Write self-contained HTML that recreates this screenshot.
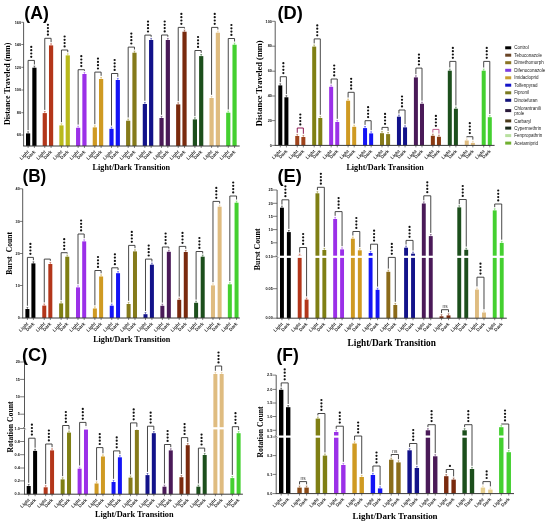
<!DOCTYPE html><html><head><meta charset="utf-8"><style>html,body{margin:0;padding:0;background:#fff;}svg{display:block;will-change:transform;}</style></head><body>
<svg width="550" height="524" viewBox="0 0 550 524">
<rect width="550" height="524" fill="#fff"/>
<rect x="26" y="133.4" width="4.2" height="12.6" fill="#000000"/>
<rect x="32.3" y="67.7" width="4.2" height="78.3" fill="#000000"/>
<path d="M28.1 133.4V131.8M27.2 131.8H29" stroke="#000000" stroke-width="0.5" fill="none"/>
<path d="M34.4 67.7V66.1M33.5 66.1H35.3" stroke="#000000" stroke-width="0.5" fill="none"/>
<rect x="42.68" y="113.1" width="4.2" height="32.9" fill="#b3361a"/>
<rect x="48.98" y="45.4" width="4.2" height="100.6" fill="#b3361a"/>
<path d="M44.78 113.1V111.5M43.88 111.5H45.68" stroke="#b3361a" stroke-width="0.5" fill="none"/>
<path d="M51.08 45.4V43.8M50.18 43.8H51.98" stroke="#b3361a" stroke-width="0.5" fill="none"/>
<rect x="59.36" y="125.4" width="4.2" height="20.6" fill="#b9b91c"/>
<rect x="65.66" y="55.4" width="4.2" height="90.6" fill="#b9b91c"/>
<path d="M61.46 125.4V123.8M60.56 123.8H62.36" stroke="#b9b91c" stroke-width="0.5" fill="none"/>
<path d="M67.76 55.4V53.8M66.86 53.8H68.66" stroke="#b9b91c" stroke-width="0.5" fill="none"/>
<rect x="76.04" y="127.8" width="4.2" height="18.2" fill="#9b30e8"/>
<rect x="82.34" y="74" width="4.2" height="72" fill="#9b30e8"/>
<path d="M78.14 127.8V126.2M77.24 126.2H79.04" stroke="#9b30e8" stroke-width="0.5" fill="none"/>
<path d="M84.44 74V72.4M83.54 72.4H85.34" stroke="#9b30e8" stroke-width="0.5" fill="none"/>
<rect x="92.72" y="127.4" width="4.2" height="18.6" fill="#cf9a22"/>
<rect x="99.02" y="79" width="4.2" height="67" fill="#cf9a22"/>
<path d="M94.82 127.4V125.8M93.92 125.8H95.72" stroke="#cf9a22" stroke-width="0.5" fill="none"/>
<path d="M101.12 79V77.4M100.22 77.4H102.02" stroke="#cf9a22" stroke-width="0.5" fill="none"/>
<rect x="109.4" y="128.8" width="4.2" height="17.2" fill="#1414f5"/>
<rect x="115.7" y="80" width="4.2" height="66" fill="#1414f5"/>
<path d="M111.5 128.8V127.2M110.6 127.2H112.4" stroke="#1414f5" stroke-width="0.5" fill="none"/>
<path d="M117.8 80V78.4M116.9 78.4H118.7" stroke="#1414f5" stroke-width="0.5" fill="none"/>
<rect x="126.08" y="120.7" width="4.2" height="25.3" fill="#857a1a"/>
<rect x="132.38" y="52.7" width="4.2" height="93.3" fill="#857a1a"/>
<path d="M128.18 120.7V119.1M127.28 119.1H129.08" stroke="#857a1a" stroke-width="0.5" fill="none"/>
<path d="M134.48 52.7V51.1M133.58 51.1H135.38" stroke="#857a1a" stroke-width="0.5" fill="none"/>
<rect x="142.76" y="104" width="4.2" height="42" fill="#12128a"/>
<rect x="149.06" y="40" width="4.2" height="106" fill="#12128a"/>
<path d="M144.86 104V102.4M143.96 102.4H145.76" stroke="#12128a" stroke-width="0.5" fill="none"/>
<path d="M151.16 40V38.4M150.26 38.4H152.06" stroke="#12128a" stroke-width="0.5" fill="none"/>
<rect x="159.44" y="118" width="4.2" height="28" fill="#4a1a58"/>
<rect x="165.74" y="40" width="4.2" height="106" fill="#4a1a58"/>
<path d="M161.54 118V116.4M160.64 116.4H162.44" stroke="#4a1a58" stroke-width="0.5" fill="none"/>
<path d="M167.84 40V38.4M166.94 38.4H168.74" stroke="#4a1a58" stroke-width="0.5" fill="none"/>
<rect x="176.12" y="104.4" width="4.2" height="41.6" fill="#7a2a0e"/>
<rect x="182.42" y="31.7" width="4.2" height="114.3" fill="#7a2a0e"/>
<path d="M178.22 104.4V102.8M177.32 102.8H179.12" stroke="#7a2a0e" stroke-width="0.5" fill="none"/>
<path d="M184.52 31.7V30.1M183.62 30.1H185.42" stroke="#7a2a0e" stroke-width="0.5" fill="none"/>
<rect x="192.8" y="119.4" width="4.2" height="26.6" fill="#1c4f1c"/>
<rect x="199.1" y="56.1" width="4.2" height="89.9" fill="#1c4f1c"/>
<path d="M194.9 119.4V117.8M194 117.8H195.8" stroke="#1c4f1c" stroke-width="0.5" fill="none"/>
<path d="M201.2 56.1V54.5M200.3 54.5H202.1" stroke="#1c4f1c" stroke-width="0.5" fill="none"/>
<rect x="209.48" y="98" width="4.2" height="48" fill="#dfbc80"/>
<rect x="215.78" y="32.7" width="4.2" height="113.3" fill="#dfbc80"/>
<path d="M211.58 98V96.4M210.68 96.4H212.48" stroke="#dfbc80" stroke-width="0.5" fill="none"/>
<path d="M217.88 32.7V31.1M216.98 31.1H218.78" stroke="#dfbc80" stroke-width="0.5" fill="none"/>
<rect x="226.16" y="112.7" width="4.2" height="33.3" fill="#44d030"/>
<rect x="232.46" y="44.7" width="4.2" height="101.3" fill="#44d030"/>
<path d="M228.26 112.7V111.1M227.36 111.1H229.16" stroke="#44d030" stroke-width="0.5" fill="none"/>
<path d="M234.56 44.7V43.1M233.66 43.1H235.46" stroke="#44d030" stroke-width="0.5" fill="none"/>
<path d="M28.1 130.2V60.4H34.4V64.5" stroke="#333" stroke-width="0.9" fill="none"/>
<circle cx="31.25" cy="56.8" r="1.12" fill="#111"/>
<circle cx="31.25" cy="53.5" r="1.12" fill="#111"/>
<circle cx="31.25" cy="50.2" r="1.12" fill="#111"/>
<circle cx="31.25" cy="46.9" r="1.12" fill="#111"/>
<path d="M44.78 109.9V38.3H51.08V42.2" stroke="#333" stroke-width="0.9" fill="none"/>
<circle cx="47.93" cy="34.7" r="1.12" fill="#111"/>
<circle cx="47.93" cy="31.4" r="1.12" fill="#111"/>
<circle cx="47.93" cy="28.1" r="1.12" fill="#111"/>
<circle cx="47.93" cy="24.8" r="1.12" fill="#111"/>
<path d="M61.46 122.2V50H67.76V52.2" stroke="#333" stroke-width="0.9" fill="none"/>
<circle cx="64.61" cy="46.4" r="1.12" fill="#111"/>
<circle cx="64.61" cy="43.1" r="1.12" fill="#111"/>
<circle cx="64.61" cy="39.8" r="1.12" fill="#111"/>
<circle cx="64.61" cy="36.5" r="1.12" fill="#111"/>
<path d="M78.14 124.6V69.7H84.44V70.8" stroke="#333" stroke-width="0.9" fill="none"/>
<circle cx="81.29" cy="66.1" r="1.12" fill="#111"/>
<circle cx="81.29" cy="62.8" r="1.12" fill="#111"/>
<circle cx="81.29" cy="59.5" r="1.12" fill="#111"/>
<circle cx="81.29" cy="56.2" r="1.12" fill="#111"/>
<path d="M94.82 124.2V72.1H101.12V75.8" stroke="#333" stroke-width="0.9" fill="none"/>
<circle cx="97.97" cy="68.5" r="1.12" fill="#111"/>
<circle cx="97.97" cy="65.2" r="1.12" fill="#111"/>
<circle cx="97.97" cy="61.9" r="1.12" fill="#111"/>
<circle cx="97.97" cy="58.6" r="1.12" fill="#111"/>
<path d="M111.5 125.6V73.5H117.8V76.8" stroke="#333" stroke-width="0.9" fill="none"/>
<circle cx="114.65" cy="69.9" r="1.12" fill="#111"/>
<circle cx="114.65" cy="66.6" r="1.12" fill="#111"/>
<circle cx="114.65" cy="63.3" r="1.12" fill="#111"/>
<circle cx="114.65" cy="60" r="1.12" fill="#111"/>
<path d="M128.18 117.5V47.1H134.48V49.5" stroke="#333" stroke-width="0.9" fill="none"/>
<circle cx="131.33" cy="43.5" r="1.12" fill="#111"/>
<circle cx="131.33" cy="40.2" r="1.12" fill="#111"/>
<circle cx="131.33" cy="36.9" r="1.12" fill="#111"/>
<circle cx="131.33" cy="33.6" r="1.12" fill="#111"/>
<path d="M144.86 100.8V35.1H151.16V36.8" stroke="#333" stroke-width="0.9" fill="none"/>
<circle cx="148.01" cy="31.5" r="1.12" fill="#111"/>
<circle cx="148.01" cy="28.2" r="1.12" fill="#111"/>
<circle cx="148.01" cy="24.9" r="1.12" fill="#111"/>
<circle cx="148.01" cy="21.6" r="1.12" fill="#111"/>
<path d="M161.54 114.8V35H167.84V36.8" stroke="#333" stroke-width="0.9" fill="none"/>
<circle cx="164.69" cy="31.4" r="1.12" fill="#111"/>
<circle cx="164.69" cy="28.1" r="1.12" fill="#111"/>
<circle cx="164.69" cy="24.8" r="1.12" fill="#111"/>
<circle cx="164.69" cy="21.5" r="1.12" fill="#111"/>
<path d="M178.22 101.2V27.4H184.52V28.5" stroke="#333" stroke-width="0.9" fill="none"/>
<circle cx="181.37" cy="23.8" r="1.12" fill="#111"/>
<circle cx="181.37" cy="20.5" r="1.12" fill="#111"/>
<circle cx="181.37" cy="17.2" r="1.12" fill="#111"/>
<circle cx="181.37" cy="13.9" r="1.12" fill="#111"/>
<path d="M194.9 116.2V50.5H201.2V52.9" stroke="#333" stroke-width="0.9" fill="none"/>
<circle cx="198.05" cy="46.9" r="1.12" fill="#111"/>
<circle cx="198.05" cy="43.6" r="1.12" fill="#111"/>
<circle cx="198.05" cy="40.3" r="1.12" fill="#111"/>
<circle cx="198.05" cy="37" r="1.12" fill="#111"/>
<path d="M211.58 94.8V27.4H217.88V29.5" stroke="#333" stroke-width="0.9" fill="none"/>
<circle cx="214.73" cy="23.8" r="1.12" fill="#111"/>
<circle cx="214.73" cy="20.5" r="1.12" fill="#111"/>
<circle cx="214.73" cy="17.2" r="1.12" fill="#111"/>
<circle cx="214.73" cy="13.9" r="1.12" fill="#111"/>
<path d="M228.26 109.5V38.5H234.56V41.5" stroke="#333" stroke-width="0.9" fill="none"/>
<circle cx="231.41" cy="34.9" r="1.12" fill="#111"/>
<circle cx="231.41" cy="31.6" r="1.12" fill="#111"/>
<circle cx="231.41" cy="28.3" r="1.12" fill="#111"/>
<circle cx="231.41" cy="25" r="1.12" fill="#111"/>
<path d="M23.6 22.3V146" stroke="#444" stroke-width="0.9" fill="none"/>
<path d="M23.15 146H239.7" stroke="#3a3a3a" stroke-width="1" fill="none"/>
<path d="M21.3 22.3H23.6" stroke="#444" stroke-width="0.7"/>
<text x="21.1" y="23.55" font-size="3.8" font-weight="bold" text-anchor="end" fill="#111" font-family='"Liberation Sans", sans-serif'>160</text>
<path d="M21.3 44.5H23.6" stroke="#444" stroke-width="0.7"/>
<text x="21.1" y="45.75" font-size="3.8" font-weight="bold" text-anchor="end" fill="#111" font-family='"Liberation Sans", sans-serif'>140</text>
<path d="M21.3 67.3H23.6" stroke="#444" stroke-width="0.7"/>
<text x="21.1" y="68.55" font-size="3.8" font-weight="bold" text-anchor="end" fill="#111" font-family='"Liberation Sans", sans-serif'>120</text>
<path d="M21.3 90H23.6" stroke="#444" stroke-width="0.7"/>
<text x="21.1" y="91.25" font-size="3.8" font-weight="bold" text-anchor="end" fill="#111" font-family='"Liberation Sans", sans-serif'>100</text>
<path d="M21.3 112.7H23.6" stroke="#444" stroke-width="0.7"/>
<text x="21.1" y="113.95" font-size="3.8" font-weight="bold" text-anchor="end" fill="#111" font-family='"Liberation Sans", sans-serif'>80</text>
<path d="M21.3 135H23.6" stroke="#444" stroke-width="0.7"/>
<text x="21.1" y="136.25" font-size="3.8" font-weight="bold" text-anchor="end" fill="#111" font-family='"Liberation Sans", sans-serif'>60</text>
<path d="M28.1 146V148" stroke="#333" stroke-width="0.6"/>
<text transform="translate(29.4 152.2) rotate(-45)" font-size="4.6" font-weight="bold" text-anchor="end" fill="#2a2a2a" font-family='"Liberation Sans", sans-serif'>Light</text>
<path d="M34.4 146V148" stroke="#333" stroke-width="0.6"/>
<text transform="translate(35.7 152.2) rotate(-45)" font-size="4.6" font-weight="bold" text-anchor="end" fill="#2a2a2a" font-family='"Liberation Sans", sans-serif'>Dark</text>
<path d="M44.78 146V148" stroke="#333" stroke-width="0.6"/>
<text transform="translate(46.08 152.2) rotate(-45)" font-size="4.6" font-weight="bold" text-anchor="end" fill="#2a2a2a" font-family='"Liberation Sans", sans-serif'>Light</text>
<path d="M51.08 146V148" stroke="#333" stroke-width="0.6"/>
<text transform="translate(52.38 152.2) rotate(-45)" font-size="4.6" font-weight="bold" text-anchor="end" fill="#2a2a2a" font-family='"Liberation Sans", sans-serif'>Dark</text>
<path d="M61.46 146V148" stroke="#333" stroke-width="0.6"/>
<text transform="translate(62.76 152.2) rotate(-45)" font-size="4.6" font-weight="bold" text-anchor="end" fill="#2a2a2a" font-family='"Liberation Sans", sans-serif'>Light</text>
<path d="M67.76 146V148" stroke="#333" stroke-width="0.6"/>
<text transform="translate(69.06 152.2) rotate(-45)" font-size="4.6" font-weight="bold" text-anchor="end" fill="#2a2a2a" font-family='"Liberation Sans", sans-serif'>Dark</text>
<path d="M78.14 146V148" stroke="#333" stroke-width="0.6"/>
<text transform="translate(79.44 152.2) rotate(-45)" font-size="4.6" font-weight="bold" text-anchor="end" fill="#2a2a2a" font-family='"Liberation Sans", sans-serif'>Light</text>
<path d="M84.44 146V148" stroke="#333" stroke-width="0.6"/>
<text transform="translate(85.74 152.2) rotate(-45)" font-size="4.6" font-weight="bold" text-anchor="end" fill="#2a2a2a" font-family='"Liberation Sans", sans-serif'>Dark</text>
<path d="M94.82 146V148" stroke="#333" stroke-width="0.6"/>
<text transform="translate(96.12 152.2) rotate(-45)" font-size="4.6" font-weight="bold" text-anchor="end" fill="#2a2a2a" font-family='"Liberation Sans", sans-serif'>Light</text>
<path d="M101.12 146V148" stroke="#333" stroke-width="0.6"/>
<text transform="translate(102.42 152.2) rotate(-45)" font-size="4.6" font-weight="bold" text-anchor="end" fill="#2a2a2a" font-family='"Liberation Sans", sans-serif'>Dark</text>
<path d="M111.5 146V148" stroke="#333" stroke-width="0.6"/>
<text transform="translate(112.8 152.2) rotate(-45)" font-size="4.6" font-weight="bold" text-anchor="end" fill="#2a2a2a" font-family='"Liberation Sans", sans-serif'>Light</text>
<path d="M117.8 146V148" stroke="#333" stroke-width="0.6"/>
<text transform="translate(119.1 152.2) rotate(-45)" font-size="4.6" font-weight="bold" text-anchor="end" fill="#2a2a2a" font-family='"Liberation Sans", sans-serif'>Dark</text>
<path d="M128.18 146V148" stroke="#333" stroke-width="0.6"/>
<text transform="translate(129.48 152.2) rotate(-45)" font-size="4.6" font-weight="bold" text-anchor="end" fill="#2a2a2a" font-family='"Liberation Sans", sans-serif'>Light</text>
<path d="M134.48 146V148" stroke="#333" stroke-width="0.6"/>
<text transform="translate(135.78 152.2) rotate(-45)" font-size="4.6" font-weight="bold" text-anchor="end" fill="#2a2a2a" font-family='"Liberation Sans", sans-serif'>Dark</text>
<path d="M144.86 146V148" stroke="#333" stroke-width="0.6"/>
<text transform="translate(146.16 152.2) rotate(-45)" font-size="4.6" font-weight="bold" text-anchor="end" fill="#2a2a2a" font-family='"Liberation Sans", sans-serif'>Light</text>
<path d="M151.16 146V148" stroke="#333" stroke-width="0.6"/>
<text transform="translate(152.46 152.2) rotate(-45)" font-size="4.6" font-weight="bold" text-anchor="end" fill="#2a2a2a" font-family='"Liberation Sans", sans-serif'>Dark</text>
<path d="M161.54 146V148" stroke="#333" stroke-width="0.6"/>
<text transform="translate(162.84 152.2) rotate(-45)" font-size="4.6" font-weight="bold" text-anchor="end" fill="#2a2a2a" font-family='"Liberation Sans", sans-serif'>Light</text>
<path d="M167.84 146V148" stroke="#333" stroke-width="0.6"/>
<text transform="translate(169.14 152.2) rotate(-45)" font-size="4.6" font-weight="bold" text-anchor="end" fill="#2a2a2a" font-family='"Liberation Sans", sans-serif'>Dark</text>
<path d="M178.22 146V148" stroke="#333" stroke-width="0.6"/>
<text transform="translate(179.52 152.2) rotate(-45)" font-size="4.6" font-weight="bold" text-anchor="end" fill="#2a2a2a" font-family='"Liberation Sans", sans-serif'>Light</text>
<path d="M184.52 146V148" stroke="#333" stroke-width="0.6"/>
<text transform="translate(185.82 152.2) rotate(-45)" font-size="4.6" font-weight="bold" text-anchor="end" fill="#2a2a2a" font-family='"Liberation Sans", sans-serif'>Dark</text>
<path d="M194.9 146V148" stroke="#333" stroke-width="0.6"/>
<text transform="translate(196.2 152.2) rotate(-45)" font-size="4.6" font-weight="bold" text-anchor="end" fill="#2a2a2a" font-family='"Liberation Sans", sans-serif'>Light</text>
<path d="M201.2 146V148" stroke="#333" stroke-width="0.6"/>
<text transform="translate(202.5 152.2) rotate(-45)" font-size="4.6" font-weight="bold" text-anchor="end" fill="#2a2a2a" font-family='"Liberation Sans", sans-serif'>Dark</text>
<path d="M211.58 146V148" stroke="#333" stroke-width="0.6"/>
<text transform="translate(212.88 152.2) rotate(-45)" font-size="4.6" font-weight="bold" text-anchor="end" fill="#2a2a2a" font-family='"Liberation Sans", sans-serif'>Light</text>
<path d="M217.88 146V148" stroke="#333" stroke-width="0.6"/>
<text transform="translate(219.18 152.2) rotate(-45)" font-size="4.6" font-weight="bold" text-anchor="end" fill="#2a2a2a" font-family='"Liberation Sans", sans-serif'>Dark</text>
<path d="M228.26 146V148" stroke="#333" stroke-width="0.6"/>
<text transform="translate(229.56 152.2) rotate(-45)" font-size="4.6" font-weight="bold" text-anchor="end" fill="#2a2a2a" font-family='"Liberation Sans", sans-serif'>Light</text>
<path d="M234.56 146V148" stroke="#333" stroke-width="0.6"/>
<text transform="translate(235.86 152.2) rotate(-45)" font-size="4.6" font-weight="bold" text-anchor="end" fill="#2a2a2a" font-family='"Liberation Sans", sans-serif'>Dark</text>
<text transform="translate(24.32 18.7) scale(0.977 1)" font-size="18.09" font-weight="bold" fill="#000" font-family='"Liberation Sans", sans-serif'>(A)</text>
<text transform="translate(10.2 83.8) rotate(-90)" font-size="8.05" word-spacing="0" font-weight="bold" text-anchor="middle" fill="#000" font-family='"Liberation Serif", serif'>Distance Traveled (mm)</text>
<text x="92.6" y="169.8" font-size="8.16" font-weight="bold" fill="#000" font-family='"Liberation Serif", serif'>Light/Dark Transition</text>
<rect x="278.3" y="85.4" width="4" height="60" fill="#000000"/>
<rect x="284.4" y="97.3" width="4" height="48.1" fill="#000000"/>
<path d="M280.3 85.4V83.8M279.4 83.8H281.2" stroke="#000000" stroke-width="0.5" fill="none"/>
<path d="M286.4 97.3V95.7M285.5 95.7H287.3" stroke="#000000" stroke-width="0.5" fill="none"/>
<rect x="295.25" y="136" width="4" height="9.4" fill="#a0441c"/>
<rect x="301.35" y="137" width="4" height="8.4" fill="#a0441c"/>
<path d="M297.25 136V134.4M296.35 134.4H298.15" stroke="#a0441c" stroke-width="0.5" fill="none"/>
<path d="M303.35 137V135.4M302.45 135.4H304.25" stroke="#a0441c" stroke-width="0.5" fill="none"/>
<rect x="312.2" y="46.6" width="4" height="98.8" fill="#7f7f14"/>
<rect x="318.3" y="118" width="4" height="27.4" fill="#7f7f14"/>
<path d="M314.2 46.6V45M313.3 45H315.1" stroke="#7f7f14" stroke-width="0.5" fill="none"/>
<path d="M320.3 118V116.4M319.4 116.4H321.2" stroke="#7f7f14" stroke-width="0.5" fill="none"/>
<rect x="329.15" y="86.8" width="4" height="58.6" fill="#9b30e8"/>
<rect x="335.25" y="122" width="4" height="23.4" fill="#9b30e8"/>
<path d="M331.15 86.8V85.2M330.25 85.2H332.05" stroke="#9b30e8" stroke-width="0.5" fill="none"/>
<path d="M337.25 122V120.4M336.35 120.4H338.15" stroke="#9b30e8" stroke-width="0.5" fill="none"/>
<rect x="346.1" y="100.7" width="4" height="44.7" fill="#cf9a22"/>
<rect x="352.2" y="126.8" width="4" height="18.6" fill="#cf9a22"/>
<path d="M348.1 100.7V99.1M347.2 99.1H349" stroke="#cf9a22" stroke-width="0.5" fill="none"/>
<path d="M354.2 126.8V125.2M353.3 125.2H355.1" stroke="#cf9a22" stroke-width="0.5" fill="none"/>
<rect x="363.05" y="128.1" width="4" height="17.3" fill="#1414f5"/>
<rect x="369.15" y="133.4" width="4" height="12" fill="#1414f5"/>
<path d="M365.05 128.1V126.5M364.15 126.5H365.95" stroke="#1414f5" stroke-width="0.5" fill="none"/>
<path d="M371.15 133.4V131.8M370.25 131.8H372.05" stroke="#1414f5" stroke-width="0.5" fill="none"/>
<rect x="380" y="133.2" width="4" height="12.2" fill="#857a1a"/>
<rect x="386.1" y="134.1" width="4" height="11.3" fill="#857a1a"/>
<path d="M382 133.2V131.6M381.1 131.6H382.9" stroke="#857a1a" stroke-width="0.5" fill="none"/>
<path d="M388.1 134.1V132.5M387.2 132.5H389" stroke="#857a1a" stroke-width="0.5" fill="none"/>
<rect x="396.95" y="116.7" width="4" height="28.7" fill="#12128a"/>
<rect x="403.05" y="127.4" width="4" height="18" fill="#12128a"/>
<path d="M398.95 116.7V115.1M398.05 115.1H399.85" stroke="#12128a" stroke-width="0.5" fill="none"/>
<path d="M405.05 127.4V125.8M404.15 125.8H405.95" stroke="#12128a" stroke-width="0.5" fill="none"/>
<rect x="413.9" y="77.4" width="4" height="68" fill="#4a1a58"/>
<rect x="420" y="103.8" width="4" height="41.6" fill="#4a1a58"/>
<path d="M415.9 77.4V75.8M415 75.8H416.8" stroke="#4a1a58" stroke-width="0.5" fill="none"/>
<path d="M422 103.8V102.2M421.1 102.2H422.9" stroke="#4a1a58" stroke-width="0.5" fill="none"/>
<rect x="430.85" y="135.8" width="4" height="9.6" fill="#8a3a12"/>
<rect x="436.95" y="136.8" width="4" height="8.6" fill="#8a3a12"/>
<path d="M432.85 135.8V134.2M431.95 134.2H433.75" stroke="#8a3a12" stroke-width="0.5" fill="none"/>
<path d="M438.95 136.8V135.2M438.05 135.2H439.85" stroke="#8a3a12" stroke-width="0.5" fill="none"/>
<rect x="447.8" y="70.7" width="4" height="74.7" fill="#1c4f1c"/>
<rect x="453.9" y="108.7" width="4" height="36.7" fill="#1c4f1c"/>
<path d="M449.8 70.7V69.1M448.9 69.1H450.7" stroke="#1c4f1c" stroke-width="0.5" fill="none"/>
<path d="M455.9 108.7V107.1M455 107.1H456.8" stroke="#1c4f1c" stroke-width="0.5" fill="none"/>
<rect x="464.75" y="140.5" width="4" height="4.9" fill="#dfbc80"/>
<rect x="470.85" y="142.9" width="4" height="2.5" fill="#dfbc80"/>
<path d="M466.75 140.5V138.9M465.85 138.9H467.65" stroke="#dfbc80" stroke-width="0.5" fill="none"/>
<path d="M472.85 142.9V141.3M471.95 141.3H473.75" stroke="#dfbc80" stroke-width="0.5" fill="none"/>
<rect x="481.7" y="70.7" width="4" height="74.7" fill="#44d030"/>
<rect x="487.8" y="117.2" width="4" height="28.2" fill="#44d030"/>
<path d="M483.7 70.7V69.1M482.8 69.1H484.6" stroke="#44d030" stroke-width="0.5" fill="none"/>
<path d="M489.8 117.2V115.6M488.9 115.6H490.7" stroke="#44d030" stroke-width="0.5" fill="none"/>
<path d="M280.3 82.2V76.7H286.4V94.1" stroke="#333" stroke-width="0.9" fill="none"/>
<circle cx="283.35" cy="73.1" r="1.12" fill="#111"/>
<circle cx="283.35" cy="69.8" r="1.12" fill="#111"/>
<circle cx="283.35" cy="66.5" r="1.12" fill="#111"/>
<circle cx="283.35" cy="63.2" r="1.12" fill="#111"/>
<path d="M297.25 132.8V128H303.35V133.8" stroke="#800040" stroke-width="0.9" fill="none"/>
<circle cx="300.3" cy="124.4" r="1.12" fill="#111"/>
<circle cx="300.3" cy="121.1" r="1.12" fill="#111"/>
<circle cx="300.3" cy="117.8" r="1.12" fill="#111"/>
<circle cx="300.3" cy="114.5" r="1.12" fill="#111"/>
<path d="M314.2 43.4V38.9H320.3V114.8" stroke="#333" stroke-width="0.9" fill="none"/>
<circle cx="317.25" cy="35.3" r="1.12" fill="#111"/>
<circle cx="317.25" cy="32" r="1.12" fill="#111"/>
<circle cx="317.25" cy="28.7" r="1.12" fill="#111"/>
<circle cx="317.25" cy="25.4" r="1.12" fill="#111"/>
<path d="M331.15 83.6V79H337.25V118.8" stroke="#333" stroke-width="0.9" fill="none"/>
<circle cx="334.2" cy="75.4" r="1.12" fill="#111"/>
<circle cx="334.2" cy="72.1" r="1.12" fill="#111"/>
<circle cx="334.2" cy="68.8" r="1.12" fill="#111"/>
<circle cx="334.2" cy="65.5" r="1.12" fill="#111"/>
<path d="M348.1 97.5V92.3H354.2V123.6" stroke="#333" stroke-width="0.9" fill="none"/>
<circle cx="351.15" cy="88.7" r="1.12" fill="#111"/>
<circle cx="351.15" cy="85.4" r="1.12" fill="#111"/>
<circle cx="351.15" cy="82.1" r="1.12" fill="#111"/>
<circle cx="351.15" cy="78.8" r="1.12" fill="#111"/>
<path d="M365.05 124.9V120.7H371.15V130.2" stroke="#333" stroke-width="0.9" fill="none"/>
<circle cx="368.1" cy="117.1" r="1.12" fill="#111"/>
<circle cx="368.1" cy="113.8" r="1.12" fill="#111"/>
<circle cx="368.1" cy="110.5" r="1.12" fill="#111"/>
<circle cx="368.1" cy="107.2" r="1.12" fill="#111"/>
<path d="M382 130V127.4H388.1V130.9" stroke="#333" stroke-width="0.9" fill="none"/>
<circle cx="385.05" cy="123.8" r="1.12" fill="#111"/>
<circle cx="385.05" cy="120.5" r="1.12" fill="#111"/>
<circle cx="385.05" cy="117.2" r="1.12" fill="#111"/>
<circle cx="385.05" cy="113.9" r="1.12" fill="#111"/>
<path d="M398.95 113.5V110H405.05V124.2" stroke="#333" stroke-width="0.9" fill="none"/>
<circle cx="402" cy="106.4" r="1.12" fill="#111"/>
<circle cx="402" cy="103.1" r="1.12" fill="#111"/>
<circle cx="402" cy="99.8" r="1.12" fill="#111"/>
<circle cx="402" cy="96.5" r="1.12" fill="#111"/>
<path d="M415.9 74.2V68.1H422V100.6" stroke="#333" stroke-width="0.9" fill="none"/>
<circle cx="418.95" cy="64.5" r="1.12" fill="#111"/>
<circle cx="418.95" cy="61.2" r="1.12" fill="#111"/>
<circle cx="418.95" cy="57.9" r="1.12" fill="#111"/>
<circle cx="418.95" cy="54.6" r="1.12" fill="#111"/>
<path d="M432.85 132.6V129.4H438.95V133.6" stroke="#b84a80" stroke-width="0.9" fill="none"/>
<circle cx="435.9" cy="125.8" r="1.12" fill="#111"/>
<circle cx="435.9" cy="122.5" r="1.12" fill="#111"/>
<circle cx="435.9" cy="119.2" r="1.12" fill="#111"/>
<circle cx="435.9" cy="115.9" r="1.12" fill="#111"/>
<path d="M449.8 67.5V61.4H455.9V105.5" stroke="#333" stroke-width="0.9" fill="none"/>
<circle cx="452.85" cy="57.8" r="1.12" fill="#111"/>
<circle cx="452.85" cy="54.5" r="1.12" fill="#111"/>
<circle cx="452.85" cy="51.2" r="1.12" fill="#111"/>
<circle cx="452.85" cy="47.9" r="1.12" fill="#111"/>
<path d="M466.75 137.3V136.7H472.85V139.7" stroke="#333" stroke-width="0.9" fill="none"/>
<circle cx="469.8" cy="133.1" r="1.12" fill="#111"/>
<circle cx="469.8" cy="129.8" r="1.12" fill="#111"/>
<circle cx="469.8" cy="126.5" r="1.12" fill="#111"/>
<circle cx="469.8" cy="123.2" r="1.12" fill="#111"/>
<path d="M483.7 67.5V61.4H489.8V114" stroke="#333" stroke-width="0.9" fill="none"/>
<circle cx="486.75" cy="57.8" r="1.12" fill="#111"/>
<circle cx="486.75" cy="54.5" r="1.12" fill="#111"/>
<circle cx="486.75" cy="51.2" r="1.12" fill="#111"/>
<circle cx="486.75" cy="47.9" r="1.12" fill="#111"/>
<path d="M275.2 21.3V145.4" stroke="#444" stroke-width="0.9" fill="none"/>
<path d="M274.75 145.4H494.6" stroke="#3a3a3a" stroke-width="1" fill="none"/>
<path d="M272.1 21.3H275.2" stroke="#444" stroke-width="0.7"/>
<text x="271.9" y="22.55" font-size="3.8" font-weight="bold" text-anchor="end" fill="#111" font-family='"Liberation Sans", sans-serif'>100</text>
<path d="M272.1 46.2H275.2" stroke="#444" stroke-width="0.7"/>
<text x="271.9" y="47.45" font-size="3.8" font-weight="bold" text-anchor="end" fill="#111" font-family='"Liberation Sans", sans-serif'>80</text>
<path d="M272.1 71.2H275.2" stroke="#444" stroke-width="0.7"/>
<text x="271.9" y="72.45" font-size="3.8" font-weight="bold" text-anchor="end" fill="#111" font-family='"Liberation Sans", sans-serif'>60</text>
<path d="M272.1 96H275.2" stroke="#444" stroke-width="0.7"/>
<text x="271.9" y="97.25" font-size="3.8" font-weight="bold" text-anchor="end" fill="#111" font-family='"Liberation Sans", sans-serif'>40</text>
<path d="M272.1 120.6H275.2" stroke="#444" stroke-width="0.7"/>
<text x="271.9" y="121.85" font-size="3.8" font-weight="bold" text-anchor="end" fill="#111" font-family='"Liberation Sans", sans-serif'>20</text>
<path d="M272.1 145.4H275.2" stroke="#444" stroke-width="0.7"/>
<text x="271.9" y="146.65" font-size="3.8" font-weight="bold" text-anchor="end" fill="#111" font-family='"Liberation Sans", sans-serif'>0</text>
<path d="M280.3 145.4V147.4" stroke="#333" stroke-width="0.6"/>
<text transform="translate(281.6 151.6) rotate(-45)" font-size="4.6" font-weight="bold" text-anchor="end" fill="#2a2a2a" font-family='"Liberation Sans", sans-serif'>Light</text>
<path d="M286.4 145.4V147.4" stroke="#333" stroke-width="0.6"/>
<text transform="translate(287.7 151.6) rotate(-45)" font-size="4.6" font-weight="bold" text-anchor="end" fill="#2a2a2a" font-family='"Liberation Sans", sans-serif'>Dark</text>
<path d="M297.25 145.4V147.4" stroke="#333" stroke-width="0.6"/>
<text transform="translate(298.55 151.6) rotate(-45)" font-size="4.6" font-weight="bold" text-anchor="end" fill="#2a2a2a" font-family='"Liberation Sans", sans-serif'>Light</text>
<path d="M303.35 145.4V147.4" stroke="#333" stroke-width="0.6"/>
<text transform="translate(304.65 151.6) rotate(-45)" font-size="4.6" font-weight="bold" text-anchor="end" fill="#2a2a2a" font-family='"Liberation Sans", sans-serif'>Dark</text>
<path d="M314.2 145.4V147.4" stroke="#333" stroke-width="0.6"/>
<text transform="translate(315.5 151.6) rotate(-45)" font-size="4.6" font-weight="bold" text-anchor="end" fill="#2a2a2a" font-family='"Liberation Sans", sans-serif'>Light</text>
<path d="M320.3 145.4V147.4" stroke="#333" stroke-width="0.6"/>
<text transform="translate(321.6 151.6) rotate(-45)" font-size="4.6" font-weight="bold" text-anchor="end" fill="#2a2a2a" font-family='"Liberation Sans", sans-serif'>Dark</text>
<path d="M331.15 145.4V147.4" stroke="#333" stroke-width="0.6"/>
<text transform="translate(332.45 151.6) rotate(-45)" font-size="4.6" font-weight="bold" text-anchor="end" fill="#2a2a2a" font-family='"Liberation Sans", sans-serif'>Light</text>
<path d="M337.25 145.4V147.4" stroke="#333" stroke-width="0.6"/>
<text transform="translate(338.55 151.6) rotate(-45)" font-size="4.6" font-weight="bold" text-anchor="end" fill="#2a2a2a" font-family='"Liberation Sans", sans-serif'>Dark</text>
<path d="M348.1 145.4V147.4" stroke="#333" stroke-width="0.6"/>
<text transform="translate(349.4 151.6) rotate(-45)" font-size="4.6" font-weight="bold" text-anchor="end" fill="#2a2a2a" font-family='"Liberation Sans", sans-serif'>Light</text>
<path d="M354.2 145.4V147.4" stroke="#333" stroke-width="0.6"/>
<text transform="translate(355.5 151.6) rotate(-45)" font-size="4.6" font-weight="bold" text-anchor="end" fill="#2a2a2a" font-family='"Liberation Sans", sans-serif'>Dark</text>
<path d="M365.05 145.4V147.4" stroke="#333" stroke-width="0.6"/>
<text transform="translate(366.35 151.6) rotate(-45)" font-size="4.6" font-weight="bold" text-anchor="end" fill="#2a2a2a" font-family='"Liberation Sans", sans-serif'>Light</text>
<path d="M371.15 145.4V147.4" stroke="#333" stroke-width="0.6"/>
<text transform="translate(372.45 151.6) rotate(-45)" font-size="4.6" font-weight="bold" text-anchor="end" fill="#2a2a2a" font-family='"Liberation Sans", sans-serif'>Dark</text>
<path d="M382 145.4V147.4" stroke="#333" stroke-width="0.6"/>
<text transform="translate(383.3 151.6) rotate(-45)" font-size="4.6" font-weight="bold" text-anchor="end" fill="#2a2a2a" font-family='"Liberation Sans", sans-serif'>Light</text>
<path d="M388.1 145.4V147.4" stroke="#333" stroke-width="0.6"/>
<text transform="translate(389.4 151.6) rotate(-45)" font-size="4.6" font-weight="bold" text-anchor="end" fill="#2a2a2a" font-family='"Liberation Sans", sans-serif'>Dark</text>
<path d="M398.95 145.4V147.4" stroke="#333" stroke-width="0.6"/>
<text transform="translate(400.25 151.6) rotate(-45)" font-size="4.6" font-weight="bold" text-anchor="end" fill="#2a2a2a" font-family='"Liberation Sans", sans-serif'>Light</text>
<path d="M405.05 145.4V147.4" stroke="#333" stroke-width="0.6"/>
<text transform="translate(406.35 151.6) rotate(-45)" font-size="4.6" font-weight="bold" text-anchor="end" fill="#2a2a2a" font-family='"Liberation Sans", sans-serif'>Dark</text>
<path d="M415.9 145.4V147.4" stroke="#333" stroke-width="0.6"/>
<text transform="translate(417.2 151.6) rotate(-45)" font-size="4.6" font-weight="bold" text-anchor="end" fill="#2a2a2a" font-family='"Liberation Sans", sans-serif'>Light</text>
<path d="M422 145.4V147.4" stroke="#333" stroke-width="0.6"/>
<text transform="translate(423.3 151.6) rotate(-45)" font-size="4.6" font-weight="bold" text-anchor="end" fill="#2a2a2a" font-family='"Liberation Sans", sans-serif'>Dark</text>
<path d="M432.85 145.4V147.4" stroke="#333" stroke-width="0.6"/>
<text transform="translate(434.15 151.6) rotate(-45)" font-size="4.6" font-weight="bold" text-anchor="end" fill="#2a2a2a" font-family='"Liberation Sans", sans-serif'>Light</text>
<path d="M438.95 145.4V147.4" stroke="#333" stroke-width="0.6"/>
<text transform="translate(440.25 151.6) rotate(-45)" font-size="4.6" font-weight="bold" text-anchor="end" fill="#2a2a2a" font-family='"Liberation Sans", sans-serif'>Dark</text>
<path d="M449.8 145.4V147.4" stroke="#333" stroke-width="0.6"/>
<text transform="translate(451.1 151.6) rotate(-45)" font-size="4.6" font-weight="bold" text-anchor="end" fill="#2a2a2a" font-family='"Liberation Sans", sans-serif'>Light</text>
<path d="M455.9 145.4V147.4" stroke="#333" stroke-width="0.6"/>
<text transform="translate(457.2 151.6) rotate(-45)" font-size="4.6" font-weight="bold" text-anchor="end" fill="#2a2a2a" font-family='"Liberation Sans", sans-serif'>Dark</text>
<path d="M466.75 145.4V147.4" stroke="#333" stroke-width="0.6"/>
<text transform="translate(468.05 151.6) rotate(-45)" font-size="4.6" font-weight="bold" text-anchor="end" fill="#2a2a2a" font-family='"Liberation Sans", sans-serif'>Light</text>
<path d="M472.85 145.4V147.4" stroke="#333" stroke-width="0.6"/>
<text transform="translate(474.15 151.6) rotate(-45)" font-size="4.6" font-weight="bold" text-anchor="end" fill="#2a2a2a" font-family='"Liberation Sans", sans-serif'>Dark</text>
<path d="M483.7 145.4V147.4" stroke="#333" stroke-width="0.6"/>
<text transform="translate(485 151.6) rotate(-45)" font-size="4.6" font-weight="bold" text-anchor="end" fill="#2a2a2a" font-family='"Liberation Sans", sans-serif'>Light</text>
<path d="M489.8 145.4V147.4" stroke="#333" stroke-width="0.6"/>
<text transform="translate(491.1 151.6) rotate(-45)" font-size="4.6" font-weight="bold" text-anchor="end" fill="#2a2a2a" font-family='"Liberation Sans", sans-serif'>Dark</text>
<text transform="translate(277.49 18.61) scale(0.988 1)" font-size="18.51" font-weight="bold" fill="#000" font-family='"Liberation Sans", sans-serif'>(D)</text>
<text transform="translate(261.9 83.25) rotate(-90)" font-size="8.4" word-spacing="0" font-weight="bold" text-anchor="middle" fill="#000" font-family='"Liberation Serif", serif'>Distance Traveled (mm)</text>
<text x="346.4" y="170.4" font-size="8.17" font-weight="bold" fill="#000" font-family='"Liberation Serif", serif'>Light/Dark Transition</text>
<rect x="25.4" y="309" width="4" height="9" fill="#000000"/>
<rect x="31.4" y="263.4" width="4" height="54.6" fill="#000000"/>
<path d="M27.4 309V307.4M26.5 307.4H28.3" stroke="#000000" stroke-width="0.5" fill="none"/>
<path d="M33.4 263.4V261.8M32.5 261.8H34.3" stroke="#000000" stroke-width="0.5" fill="none"/>
<rect x="42.27" y="305.6" width="4" height="12.4" fill="#b3361a"/>
<rect x="48.33" y="264" width="4" height="54" fill="#b3361a"/>
<path d="M44.27 305.6V304M43.37 304H45.17" stroke="#b3361a" stroke-width="0.5" fill="none"/>
<path d="M50.33 264V262.4M49.43 262.4H51.23" stroke="#b3361a" stroke-width="0.5" fill="none"/>
<rect x="59.14" y="303.4" width="4" height="14.6" fill="#7f7f14"/>
<rect x="65.26" y="256.7" width="4" height="61.3" fill="#7f7f14"/>
<path d="M61.14 303.4V301.8M60.24 301.8H62.04" stroke="#7f7f14" stroke-width="0.5" fill="none"/>
<path d="M67.26 256.7V255.1M66.36 255.1H68.16" stroke="#7f7f14" stroke-width="0.5" fill="none"/>
<rect x="76.01" y="287.4" width="4" height="30.6" fill="#9b30e8"/>
<rect x="82.19" y="241.4" width="4" height="76.6" fill="#9b30e8"/>
<path d="M78.01 287.4V285.8M77.11 285.8H78.91" stroke="#9b30e8" stroke-width="0.5" fill="none"/>
<path d="M84.19 241.4V239.8M83.29 239.8H85.09" stroke="#9b30e8" stroke-width="0.5" fill="none"/>
<rect x="92.88" y="308.5" width="4" height="9.5" fill="#cf9a22"/>
<rect x="99.12" y="276.5" width="4" height="41.5" fill="#cf9a22"/>
<path d="M94.88 308.5V306.9M93.98 306.9H95.78" stroke="#cf9a22" stroke-width="0.5" fill="none"/>
<path d="M101.12 276.5V274.9M100.22 274.9H102.02" stroke="#cf9a22" stroke-width="0.5" fill="none"/>
<rect x="109.75" y="305.7" width="4" height="12.3" fill="#1414f5"/>
<rect x="116.05" y="273.2" width="4" height="44.8" fill="#1414f5"/>
<path d="M111.75 305.7V304.1M110.85 304.1H112.65" stroke="#1414f5" stroke-width="0.5" fill="none"/>
<path d="M118.05 273.2V271.6M117.15 271.6H118.95" stroke="#1414f5" stroke-width="0.5" fill="none"/>
<rect x="126.62" y="304" width="4" height="14" fill="#857a1a"/>
<rect x="132.98" y="251.4" width="4" height="66.6" fill="#857a1a"/>
<path d="M128.62 304V302.4M127.72 302.4H129.52" stroke="#857a1a" stroke-width="0.5" fill="none"/>
<path d="M134.98 251.4V249.8M134.08 249.8H135.88" stroke="#857a1a" stroke-width="0.5" fill="none"/>
<rect x="143.49" y="314.2" width="4" height="3.8" fill="#12128a"/>
<rect x="149.91" y="264.7" width="4" height="53.3" fill="#12128a"/>
<path d="M145.49 314.2V312.6M144.59 312.6H146.39" stroke="#12128a" stroke-width="0.5" fill="none"/>
<path d="M151.91 264.7V263.1M151.01 263.1H152.81" stroke="#12128a" stroke-width="0.5" fill="none"/>
<rect x="160.36" y="305.8" width="4" height="12.2" fill="#4a1a58"/>
<rect x="166.84" y="251.8" width="4" height="66.2" fill="#4a1a58"/>
<path d="M162.36 305.8V304.2M161.46 304.2H163.26" stroke="#4a1a58" stroke-width="0.5" fill="none"/>
<path d="M168.84 251.8V250.2M167.94 250.2H169.74" stroke="#4a1a58" stroke-width="0.5" fill="none"/>
<rect x="177.23" y="299.8" width="4" height="18.2" fill="#7a2a0e"/>
<rect x="183.77" y="252" width="4" height="66" fill="#7a2a0e"/>
<path d="M179.23 299.8V298.2M178.33 298.2H180.13" stroke="#7a2a0e" stroke-width="0.5" fill="none"/>
<path d="M185.77 252V250.4M184.87 250.4H186.67" stroke="#7a2a0e" stroke-width="0.5" fill="none"/>
<rect x="194.1" y="302.8" width="4" height="15.2" fill="#1c4f1c"/>
<rect x="200.7" y="256.7" width="4" height="61.3" fill="#1c4f1c"/>
<path d="M196.1 302.8V301.2M195.2 301.2H197" stroke="#1c4f1c" stroke-width="0.5" fill="none"/>
<path d="M202.7 256.7V255.1M201.8 255.1H203.6" stroke="#1c4f1c" stroke-width="0.5" fill="none"/>
<rect x="210.97" y="285.4" width="4" height="32.6" fill="#dfbc80"/>
<rect x="217.63" y="206.7" width="4" height="111.3" fill="#dfbc80"/>
<path d="M212.97 285.4V283.8M212.07 283.8H213.87" stroke="#dfbc80" stroke-width="0.5" fill="none"/>
<path d="M219.63 206.7V205.1M218.73 205.1H220.53" stroke="#dfbc80" stroke-width="0.5" fill="none"/>
<rect x="227.84" y="284.3" width="4" height="33.7" fill="#44d030"/>
<rect x="234.56" y="202.7" width="4" height="115.3" fill="#44d030"/>
<path d="M229.84 284.3V282.7M228.94 282.7H230.74" stroke="#44d030" stroke-width="0.5" fill="none"/>
<path d="M236.56 202.7V201.1M235.66 201.1H237.46" stroke="#44d030" stroke-width="0.5" fill="none"/>
<path d="M27.4 305.8V257.4H33.4V260.2" stroke="#333" stroke-width="0.9" fill="none"/>
<circle cx="30.4" cy="253.8" r="1.12" fill="#111"/>
<circle cx="30.4" cy="250.5" r="1.12" fill="#111"/>
<circle cx="30.4" cy="247.2" r="1.12" fill="#111"/>
<circle cx="30.4" cy="243.9" r="1.12" fill="#111"/>
<path d="M44.27 302.4V259.1H50.33V260.8" stroke="#333" stroke-width="0.9" fill="none"/>
<path d="M61.14 300.2V252.7H67.26V253.5" stroke="#333" stroke-width="0.9" fill="none"/>
<circle cx="64.2" cy="249.1" r="1.12" fill="#111"/>
<circle cx="64.2" cy="245.8" r="1.12" fill="#111"/>
<circle cx="64.2" cy="242.5" r="1.12" fill="#111"/>
<circle cx="64.2" cy="239.2" r="1.12" fill="#111"/>
<path d="M78.01 284.2V234H84.19V238.2" stroke="#333" stroke-width="0.9" fill="none"/>
<circle cx="81.1" cy="230.4" r="1.12" fill="#111"/>
<circle cx="81.1" cy="227.1" r="1.12" fill="#111"/>
<circle cx="81.1" cy="223.8" r="1.12" fill="#111"/>
<circle cx="81.1" cy="220.5" r="1.12" fill="#111"/>
<path d="M94.88 305.3V270.5H101.12V273.3" stroke="#333" stroke-width="0.9" fill="none"/>
<circle cx="98" cy="266.9" r="1.12" fill="#111"/>
<circle cx="98" cy="263.6" r="1.12" fill="#111"/>
<circle cx="98" cy="260.3" r="1.12" fill="#111"/>
<circle cx="98" cy="257" r="1.12" fill="#111"/>
<path d="M111.75 302.5V267.8H118.05V270" stroke="#333" stroke-width="0.9" fill="none"/>
<circle cx="114.9" cy="264.2" r="1.12" fill="#111"/>
<circle cx="114.9" cy="260.9" r="1.12" fill="#111"/>
<circle cx="114.9" cy="257.6" r="1.12" fill="#111"/>
<circle cx="114.9" cy="254.3" r="1.12" fill="#111"/>
<path d="M128.62 300.8V245.4H134.98V248.2" stroke="#333" stroke-width="0.9" fill="none"/>
<circle cx="131.8" cy="241.8" r="1.12" fill="#111"/>
<circle cx="131.8" cy="238.5" r="1.12" fill="#111"/>
<circle cx="131.8" cy="235.2" r="1.12" fill="#111"/>
<circle cx="131.8" cy="231.9" r="1.12" fill="#111"/>
<path d="M145.49 311V259.1H151.91V261.5" stroke="#333" stroke-width="0.9" fill="none"/>
<circle cx="148.7" cy="255.5" r="1.12" fill="#111"/>
<circle cx="148.7" cy="252.2" r="1.12" fill="#111"/>
<circle cx="148.7" cy="248.9" r="1.12" fill="#111"/>
<circle cx="148.7" cy="245.6" r="1.12" fill="#111"/>
<path d="M162.36 302.6V247H168.84V248.6" stroke="#333" stroke-width="0.9" fill="none"/>
<circle cx="165.6" cy="243.4" r="1.12" fill="#111"/>
<circle cx="165.6" cy="240.1" r="1.12" fill="#111"/>
<circle cx="165.6" cy="236.8" r="1.12" fill="#111"/>
<circle cx="165.6" cy="233.5" r="1.12" fill="#111"/>
<path d="M179.23 296.6V246.4H185.77V248.8" stroke="#333" stroke-width="0.9" fill="none"/>
<circle cx="182.5" cy="242.8" r="1.12" fill="#111"/>
<circle cx="182.5" cy="239.5" r="1.12" fill="#111"/>
<circle cx="182.5" cy="236.2" r="1.12" fill="#111"/>
<circle cx="182.5" cy="232.9" r="1.12" fill="#111"/>
<path d="M196.1 299.6V251.5H202.7V253.5" stroke="#333" stroke-width="0.9" fill="none"/>
<circle cx="199.4" cy="247.9" r="1.12" fill="#111"/>
<circle cx="199.4" cy="244.6" r="1.12" fill="#111"/>
<circle cx="199.4" cy="241.3" r="1.12" fill="#111"/>
<circle cx="199.4" cy="238" r="1.12" fill="#111"/>
<path d="M212.97 282.2V201.4H219.63V203.5" stroke="#333" stroke-width="0.9" fill="none"/>
<circle cx="216.3" cy="197.8" r="1.12" fill="#111"/>
<circle cx="216.3" cy="194.5" r="1.12" fill="#111"/>
<circle cx="216.3" cy="191.2" r="1.12" fill="#111"/>
<circle cx="216.3" cy="187.9" r="1.12" fill="#111"/>
<path d="M229.84 281.1V196H236.56V199.5" stroke="#333" stroke-width="0.9" fill="none"/>
<circle cx="233.2" cy="192.4" r="1.12" fill="#111"/>
<circle cx="233.2" cy="189.1" r="1.12" fill="#111"/>
<circle cx="233.2" cy="185.8" r="1.12" fill="#111"/>
<circle cx="233.2" cy="182.5" r="1.12" fill="#111"/>
<path d="M22.7 188.8V318" stroke="#444" stroke-width="0.9" fill="none"/>
<path d="M22.25 318H239.8" stroke="#3a3a3a" stroke-width="1" fill="none"/>
<path d="M20 188.8H22.7" stroke="#444" stroke-width="0.7"/>
<text x="19.8" y="190.05" font-size="3.8" font-weight="bold" text-anchor="end" fill="#111" font-family='"Liberation Sans", sans-serif'>40</text>
<path d="M20 221.4H22.7" stroke="#444" stroke-width="0.7"/>
<text x="19.8" y="222.65" font-size="3.8" font-weight="bold" text-anchor="end" fill="#111" font-family='"Liberation Sans", sans-serif'>30</text>
<path d="M20 253.5H22.7" stroke="#444" stroke-width="0.7"/>
<text x="19.8" y="254.75" font-size="3.8" font-weight="bold" text-anchor="end" fill="#111" font-family='"Liberation Sans", sans-serif'>20</text>
<path d="M20 285.5H22.7" stroke="#444" stroke-width="0.7"/>
<text x="19.8" y="286.75" font-size="3.8" font-weight="bold" text-anchor="end" fill="#111" font-family='"Liberation Sans", sans-serif'>10</text>
<path d="M20 318H22.7" stroke="#444" stroke-width="0.7"/>
<text x="19.8" y="319.25" font-size="3.8" font-weight="bold" text-anchor="end" fill="#111" font-family='"Liberation Sans", sans-serif'>0</text>
<path d="M27.4 318V320" stroke="#333" stroke-width="0.6"/>
<text transform="translate(28.7 324.2) rotate(-45)" font-size="4.6" font-weight="bold" text-anchor="end" fill="#2a2a2a" font-family='"Liberation Sans", sans-serif'>Light</text>
<path d="M33.4 318V320" stroke="#333" stroke-width="0.6"/>
<text transform="translate(34.7 324.2) rotate(-45)" font-size="4.6" font-weight="bold" text-anchor="end" fill="#2a2a2a" font-family='"Liberation Sans", sans-serif'>Dark</text>
<path d="M44.27 318V320" stroke="#333" stroke-width="0.6"/>
<text transform="translate(45.57 324.2) rotate(-45)" font-size="4.6" font-weight="bold" text-anchor="end" fill="#2a2a2a" font-family='"Liberation Sans", sans-serif'>Light</text>
<path d="M50.33 318V320" stroke="#333" stroke-width="0.6"/>
<text transform="translate(51.63 324.2) rotate(-45)" font-size="4.6" font-weight="bold" text-anchor="end" fill="#2a2a2a" font-family='"Liberation Sans", sans-serif'>Dark</text>
<path d="M61.14 318V320" stroke="#333" stroke-width="0.6"/>
<text transform="translate(62.44 324.2) rotate(-45)" font-size="4.6" font-weight="bold" text-anchor="end" fill="#2a2a2a" font-family='"Liberation Sans", sans-serif'>Light</text>
<path d="M67.26 318V320" stroke="#333" stroke-width="0.6"/>
<text transform="translate(68.56 324.2) rotate(-45)" font-size="4.6" font-weight="bold" text-anchor="end" fill="#2a2a2a" font-family='"Liberation Sans", sans-serif'>Dark</text>
<path d="M78.01 318V320" stroke="#333" stroke-width="0.6"/>
<text transform="translate(79.31 324.2) rotate(-45)" font-size="4.6" font-weight="bold" text-anchor="end" fill="#2a2a2a" font-family='"Liberation Sans", sans-serif'>Light</text>
<path d="M84.19 318V320" stroke="#333" stroke-width="0.6"/>
<text transform="translate(85.49 324.2) rotate(-45)" font-size="4.6" font-weight="bold" text-anchor="end" fill="#2a2a2a" font-family='"Liberation Sans", sans-serif'>Dark</text>
<path d="M94.88 318V320" stroke="#333" stroke-width="0.6"/>
<text transform="translate(96.18 324.2) rotate(-45)" font-size="4.6" font-weight="bold" text-anchor="end" fill="#2a2a2a" font-family='"Liberation Sans", sans-serif'>Light</text>
<path d="M101.12 318V320" stroke="#333" stroke-width="0.6"/>
<text transform="translate(102.42 324.2) rotate(-45)" font-size="4.6" font-weight="bold" text-anchor="end" fill="#2a2a2a" font-family='"Liberation Sans", sans-serif'>Dark</text>
<path d="M111.75 318V320" stroke="#333" stroke-width="0.6"/>
<text transform="translate(113.05 324.2) rotate(-45)" font-size="4.6" font-weight="bold" text-anchor="end" fill="#2a2a2a" font-family='"Liberation Sans", sans-serif'>Light</text>
<path d="M118.05 318V320" stroke="#333" stroke-width="0.6"/>
<text transform="translate(119.35 324.2) rotate(-45)" font-size="4.6" font-weight="bold" text-anchor="end" fill="#2a2a2a" font-family='"Liberation Sans", sans-serif'>Dark</text>
<path d="M128.62 318V320" stroke="#333" stroke-width="0.6"/>
<text transform="translate(129.92 324.2) rotate(-45)" font-size="4.6" font-weight="bold" text-anchor="end" fill="#2a2a2a" font-family='"Liberation Sans", sans-serif'>Light</text>
<path d="M134.98 318V320" stroke="#333" stroke-width="0.6"/>
<text transform="translate(136.28 324.2) rotate(-45)" font-size="4.6" font-weight="bold" text-anchor="end" fill="#2a2a2a" font-family='"Liberation Sans", sans-serif'>Dark</text>
<path d="M145.49 318V320" stroke="#333" stroke-width="0.6"/>
<text transform="translate(146.79 324.2) rotate(-45)" font-size="4.6" font-weight="bold" text-anchor="end" fill="#2a2a2a" font-family='"Liberation Sans", sans-serif'>Light</text>
<path d="M151.91 318V320" stroke="#333" stroke-width="0.6"/>
<text transform="translate(153.21 324.2) rotate(-45)" font-size="4.6" font-weight="bold" text-anchor="end" fill="#2a2a2a" font-family='"Liberation Sans", sans-serif'>Dark</text>
<path d="M162.36 318V320" stroke="#333" stroke-width="0.6"/>
<text transform="translate(163.66 324.2) rotate(-45)" font-size="4.6" font-weight="bold" text-anchor="end" fill="#2a2a2a" font-family='"Liberation Sans", sans-serif'>Light</text>
<path d="M168.84 318V320" stroke="#333" stroke-width="0.6"/>
<text transform="translate(170.14 324.2) rotate(-45)" font-size="4.6" font-weight="bold" text-anchor="end" fill="#2a2a2a" font-family='"Liberation Sans", sans-serif'>Dark</text>
<path d="M179.23 318V320" stroke="#333" stroke-width="0.6"/>
<text transform="translate(180.53 324.2) rotate(-45)" font-size="4.6" font-weight="bold" text-anchor="end" fill="#2a2a2a" font-family='"Liberation Sans", sans-serif'>Light</text>
<path d="M185.77 318V320" stroke="#333" stroke-width="0.6"/>
<text transform="translate(187.07 324.2) rotate(-45)" font-size="4.6" font-weight="bold" text-anchor="end" fill="#2a2a2a" font-family='"Liberation Sans", sans-serif'>Dark</text>
<path d="M196.1 318V320" stroke="#333" stroke-width="0.6"/>
<text transform="translate(197.4 324.2) rotate(-45)" font-size="4.6" font-weight="bold" text-anchor="end" fill="#2a2a2a" font-family='"Liberation Sans", sans-serif'>Light</text>
<path d="M202.7 318V320" stroke="#333" stroke-width="0.6"/>
<text transform="translate(204 324.2) rotate(-45)" font-size="4.6" font-weight="bold" text-anchor="end" fill="#2a2a2a" font-family='"Liberation Sans", sans-serif'>Dark</text>
<path d="M212.97 318V320" stroke="#333" stroke-width="0.6"/>
<text transform="translate(214.27 324.2) rotate(-45)" font-size="4.6" font-weight="bold" text-anchor="end" fill="#2a2a2a" font-family='"Liberation Sans", sans-serif'>Light</text>
<path d="M219.63 318V320" stroke="#333" stroke-width="0.6"/>
<text transform="translate(220.93 324.2) rotate(-45)" font-size="4.6" font-weight="bold" text-anchor="end" fill="#2a2a2a" font-family='"Liberation Sans", sans-serif'>Dark</text>
<path d="M229.84 318V320" stroke="#333" stroke-width="0.6"/>
<text transform="translate(231.14 324.2) rotate(-45)" font-size="4.6" font-weight="bold" text-anchor="end" fill="#2a2a2a" font-family='"Liberation Sans", sans-serif'>Light</text>
<path d="M236.56 318V320" stroke="#333" stroke-width="0.6"/>
<text transform="translate(237.86 324.2) rotate(-45)" font-size="4.6" font-weight="bold" text-anchor="end" fill="#2a2a2a" font-family='"Liberation Sans", sans-serif'>Dark</text>
<text transform="translate(22.54 181.71) scale(0.926 1)" font-size="18.51" font-weight="bold" fill="#000" font-family='"Liberation Sans", sans-serif'>(B)</text>
<text transform="translate(11.9 253.3) rotate(-90)" font-size="7.6" word-spacing="2.5" font-weight="bold" text-anchor="middle" fill="#000" font-family='"Liberation Serif", serif'>Burst Count</text>
<text x="93.2" y="341.8" font-size="8.14" font-weight="bold" fill="#000" font-family='"Liberation Serif", serif'>Light/Dark Transition</text>
<rect x="280" y="207.7" width="3.9" height="110.5" fill="#000000"/>
<rect x="286.9" y="232.1" width="3.9" height="86.1" fill="#000000"/>
<path d="M281.95 207.7V206.1M281.05 206.1H282.85" stroke="#000000" stroke-width="0.5" fill="none"/>
<path d="M288.85 232.1V230.5M287.95 230.5H289.75" stroke="#000000" stroke-width="0.5" fill="none"/>
<rect x="297.73" y="255.7" width="3.9" height="62.5" fill="#b3361a"/>
<rect x="304.64" y="299.6" width="3.9" height="18.6" fill="#b3361a"/>
<path d="M299.68 255.7V254.1M298.78 254.1H300.58" stroke="#b3361a" stroke-width="0.5" fill="none"/>
<path d="M306.59 299.6V298M305.69 298H307.49" stroke="#b3361a" stroke-width="0.5" fill="none"/>
<rect x="315.46" y="193.3" width="3.9" height="124.9" fill="#7f7f14"/>
<rect x="322.38" y="250" width="3.9" height="68.2" fill="#7f7f14"/>
<path d="M317.41 193.3V191.7M316.51 191.7H318.31" stroke="#7f7f14" stroke-width="0.5" fill="none"/>
<path d="M324.33 250V248.4M323.43 248.4H325.23" stroke="#7f7f14" stroke-width="0.5" fill="none"/>
<rect x="333.19" y="219" width="3.9" height="99.2" fill="#9b30e8"/>
<rect x="340.12" y="249.4" width="3.9" height="68.8" fill="#9b30e8"/>
<path d="M335.14 219V217.4M334.24 217.4H336.04" stroke="#9b30e8" stroke-width="0.5" fill="none"/>
<path d="M342.07 249.4V247.8M341.17 247.8H342.97" stroke="#9b30e8" stroke-width="0.5" fill="none"/>
<rect x="350.92" y="238.7" width="3.9" height="79.5" fill="#cf9a22"/>
<rect x="357.86" y="250.3" width="3.9" height="67.9" fill="#cf9a22"/>
<path d="M352.87 238.7V237.1M351.97 237.1H353.77" stroke="#cf9a22" stroke-width="0.5" fill="none"/>
<path d="M359.81 250.3V248.7M358.91 248.7H360.71" stroke="#cf9a22" stroke-width="0.5" fill="none"/>
<rect x="368.65" y="253" width="3.9" height="65.2" fill="#1414f5"/>
<rect x="375.6" y="289.8" width="3.9" height="28.4" fill="#1414f5"/>
<path d="M370.6 253V251.4M369.7 251.4H371.5" stroke="#1414f5" stroke-width="0.5" fill="none"/>
<path d="M377.55 289.8V288.2M376.65 288.2H378.45" stroke="#1414f5" stroke-width="0.5" fill="none"/>
<rect x="386.38" y="271.8" width="3.9" height="46.4" fill="#8b6a1a"/>
<rect x="393.34" y="305" width="3.9" height="13.2" fill="#8b6a1a"/>
<path d="M388.33 271.8V270.2M387.43 270.2H389.23" stroke="#8b6a1a" stroke-width="0.5" fill="none"/>
<path d="M395.29 305V303.4M394.39 303.4H396.19" stroke="#8b6a1a" stroke-width="0.5" fill="none"/>
<rect x="404.11" y="247.7" width="3.9" height="70.5" fill="#12128a"/>
<rect x="411.08" y="253.7" width="3.9" height="64.5" fill="#12128a"/>
<path d="M406.06 247.7V246.1M405.16 246.1H406.96" stroke="#12128a" stroke-width="0.5" fill="none"/>
<path d="M413.03 253.7V252.1M412.13 252.1H413.93" stroke="#12128a" stroke-width="0.5" fill="none"/>
<rect x="421.84" y="203.5" width="3.9" height="114.7" fill="#4a1a58"/>
<rect x="428.82" y="236.1" width="3.9" height="82.1" fill="#4a1a58"/>
<path d="M423.79 203.5V201.9M422.89 201.9H424.69" stroke="#4a1a58" stroke-width="0.5" fill="none"/>
<path d="M430.77 236.1V234.5M429.87 234.5H431.67" stroke="#4a1a58" stroke-width="0.5" fill="none"/>
<rect x="439.57" y="316.3" width="3.9" height="1.9" fill="#7a2a0e"/>
<rect x="446.56" y="315.4" width="3.9" height="2.8" fill="#7a2a0e"/>
<path d="M441.52 316.3V314.7M440.62 314.7H442.42" stroke="#7a2a0e" stroke-width="0.5" fill="none"/>
<path d="M448.51 315.4V313.8M447.61 313.8H449.41" stroke="#7a2a0e" stroke-width="0.5" fill="none"/>
<rect x="457.3" y="207.4" width="3.9" height="110.8" fill="#1c4f1c"/>
<rect x="464.3" y="249.8" width="3.9" height="68.4" fill="#1c4f1c"/>
<path d="M459.25 207.4V205.8M458.35 205.8H460.15" stroke="#1c4f1c" stroke-width="0.5" fill="none"/>
<path d="M466.25 249.8V248.2M465.35 248.2H467.15" stroke="#1c4f1c" stroke-width="0.5" fill="none"/>
<rect x="475.03" y="289.6" width="3.9" height="28.6" fill="#dfbc80"/>
<rect x="482.04" y="312.5" width="3.9" height="5.7" fill="#dfbc80"/>
<path d="M476.98 289.6V288M476.08 288H477.88" stroke="#dfbc80" stroke-width="0.5" fill="none"/>
<path d="M483.99 312.5V310.9M483.09 310.9H484.89" stroke="#dfbc80" stroke-width="0.5" fill="none"/>
<rect x="492.76" y="210.4" width="3.9" height="107.8" fill="#44d030"/>
<rect x="499.78" y="242.9" width="3.9" height="75.3" fill="#44d030"/>
<path d="M494.71 210.4V208.8M493.81 208.8H495.61" stroke="#44d030" stroke-width="0.5" fill="none"/>
<path d="M501.73 242.9V241.3M500.83 241.3H502.63" stroke="#44d030" stroke-width="0.5" fill="none"/>
<rect x="278.1" y="255.7" width="228.7" height="2.2" fill="#fff"/>
<path d="M281.95 204.5V199.8H288.85V228.9" stroke="#333" stroke-width="0.9" fill="none"/>
<circle cx="285.4" cy="196.2" r="1.12" fill="#111"/>
<circle cx="285.4" cy="192.9" r="1.12" fill="#111"/>
<circle cx="285.4" cy="189.6" r="1.12" fill="#111"/>
<circle cx="285.4" cy="186.3" r="1.12" fill="#111"/>
<path d="M299.68 252.5V247.5H306.59V296.4" stroke="#333" stroke-width="0.9" fill="none"/>
<circle cx="303.13" cy="243.9" r="1.12" fill="#111"/>
<circle cx="303.13" cy="240.6" r="1.12" fill="#111"/>
<circle cx="303.13" cy="237.3" r="1.12" fill="#111"/>
<circle cx="303.13" cy="234" r="1.12" fill="#111"/>
<path d="M317.41 190.1V187.3H324.33V246.8" stroke="#333" stroke-width="0.9" fill="none"/>
<circle cx="320.87" cy="183.7" r="1.12" fill="#111"/>
<circle cx="320.87" cy="180.4" r="1.12" fill="#111"/>
<circle cx="320.87" cy="177.1" r="1.12" fill="#111"/>
<circle cx="320.87" cy="173.8" r="1.12" fill="#111"/>
<path d="M335.14 215.8V211.6H342.07V246.2" stroke="#333" stroke-width="0.9" fill="none"/>
<circle cx="338.61" cy="208" r="1.12" fill="#111"/>
<circle cx="338.61" cy="204.7" r="1.12" fill="#111"/>
<circle cx="338.61" cy="201.4" r="1.12" fill="#111"/>
<circle cx="338.61" cy="198.1" r="1.12" fill="#111"/>
<path d="M352.87 235.5V231.5H359.81V247.1" stroke="#333" stroke-width="0.9" fill="none"/>
<circle cx="356.34" cy="227.9" r="1.12" fill="#111"/>
<circle cx="356.34" cy="224.6" r="1.12" fill="#111"/>
<circle cx="356.34" cy="221.3" r="1.12" fill="#111"/>
<circle cx="356.34" cy="218" r="1.12" fill="#111"/>
<path d="M370.6 249.8V244.2H377.55V286.6" stroke="#333" stroke-width="0.9" fill="none"/>
<circle cx="374.07" cy="240.6" r="1.12" fill="#111"/>
<circle cx="374.07" cy="237.3" r="1.12" fill="#111"/>
<circle cx="374.07" cy="234" r="1.12" fill="#111"/>
<circle cx="374.07" cy="230.7" r="1.12" fill="#111"/>
<path d="M388.33 268.6V257.4H395.29V301.8" stroke="#333" stroke-width="0.9" fill="none"/>
<circle cx="391.81" cy="253.8" r="1.12" fill="#111"/>
<circle cx="391.81" cy="250.5" r="1.12" fill="#111"/>
<circle cx="391.81" cy="247.2" r="1.12" fill="#111"/>
<circle cx="391.81" cy="243.9" r="1.12" fill="#111"/>
<path d="M406.06 244.5V240.4H413.03V250.5" stroke="#333" stroke-width="0.9" fill="none"/>
<circle cx="409.54" cy="236.8" r="1.12" fill="#111"/>
<circle cx="409.54" cy="233.5" r="1.12" fill="#111"/>
<circle cx="409.54" cy="230.2" r="1.12" fill="#111"/>
<circle cx="409.54" cy="226.9" r="1.12" fill="#111"/>
<path d="M423.79 200.3V195.8H430.77V232.9" stroke="#333" stroke-width="0.9" fill="none"/>
<circle cx="427.28" cy="192.2" r="1.12" fill="#111"/>
<circle cx="427.28" cy="188.9" r="1.12" fill="#111"/>
<circle cx="427.28" cy="185.6" r="1.12" fill="#111"/>
<circle cx="427.28" cy="182.3" r="1.12" fill="#111"/>
<path d="M441.52 313.1V309.7H448.51V312.2" stroke="#333" stroke-width="0.9" fill="none"/>
<text x="445.01" y="307.7" font-size="4.8" text-anchor="middle" fill="#333" font-family='"Liberation Sans", sans-serif'>ns</text>
<path d="M459.25 204.2V199.5H466.25V246.6" stroke="#333" stroke-width="0.9" fill="none"/>
<circle cx="462.75" cy="195.9" r="1.12" fill="#111"/>
<circle cx="462.75" cy="192.6" r="1.12" fill="#111"/>
<circle cx="462.75" cy="189.3" r="1.12" fill="#111"/>
<circle cx="462.75" cy="186" r="1.12" fill="#111"/>
<path d="M476.98 286.4V277.2H483.99V309.3" stroke="#333" stroke-width="0.9" fill="none"/>
<circle cx="480.48" cy="273.6" r="1.12" fill="#111"/>
<circle cx="480.48" cy="270.3" r="1.12" fill="#111"/>
<circle cx="480.48" cy="267" r="1.12" fill="#111"/>
<circle cx="480.48" cy="263.7" r="1.12" fill="#111"/>
<path d="M494.71 207.2V204H501.73V239.7" stroke="#333" stroke-width="0.9" fill="none"/>
<circle cx="498.22" cy="200.4" r="1.12" fill="#111"/>
<circle cx="498.22" cy="197.1" r="1.12" fill="#111"/>
<circle cx="498.22" cy="193.8" r="1.12" fill="#111"/>
<circle cx="498.22" cy="190.5" r="1.12" fill="#111"/>
<path d="M277.1 190V318.2" stroke="#444" stroke-width="0.9" fill="none"/>
<path d="M276.65 318.2H506.8" stroke="#3a3a3a" stroke-width="1" fill="none"/>
<rect x="276.1" y="255.7" width="2" height="2.2" fill="#fff"/>
<path d="M276.1 255.6L278.1 257.8" stroke="#222" stroke-width="0.8"/>
<path d="M273 190H277.1" stroke="#444" stroke-width="0.7"/>
<text x="272.8" y="191.25" font-size="3.8" font-weight="bold" text-anchor="end" fill="#111" font-family='"Liberation Sans", sans-serif'>25</text>
<path d="M273 203.3H277.1" stroke="#444" stroke-width="0.7"/>
<text x="272.8" y="204.55" font-size="3.8" font-weight="bold" text-anchor="end" fill="#111" font-family='"Liberation Sans", sans-serif'>20</text>
<path d="M273 216.3H277.1" stroke="#444" stroke-width="0.7"/>
<text x="272.8" y="217.55" font-size="3.8" font-weight="bold" text-anchor="end" fill="#111" font-family='"Liberation Sans", sans-serif'>15</text>
<path d="M273 229.6H277.1" stroke="#444" stroke-width="0.7"/>
<text x="272.8" y="230.85" font-size="3.8" font-weight="bold" text-anchor="end" fill="#111" font-family='"Liberation Sans", sans-serif'>10</text>
<path d="M273 242.8H277.1" stroke="#444" stroke-width="0.7"/>
<text x="272.8" y="244.05" font-size="3.8" font-weight="bold" text-anchor="end" fill="#111" font-family='"Liberation Sans", sans-serif'>5</text>
<path d="M273 256.7H277.1" stroke="#444" stroke-width="0.7"/>
<text x="272.8" y="257.95" font-size="3.8" font-weight="bold" text-anchor="end" fill="#111" font-family='"Liberation Sans", sans-serif'>0.10</text>
<path d="M273 288.7H277.1" stroke="#444" stroke-width="0.7"/>
<text x="272.8" y="289.95" font-size="3.8" font-weight="bold" text-anchor="end" fill="#111" font-family='"Liberation Sans", sans-serif'>0.05</text>
<path d="M273 318.2H277.1" stroke="#444" stroke-width="0.7"/>
<text x="272.8" y="319.45" font-size="3.8" font-weight="bold" text-anchor="end" fill="#111" font-family='"Liberation Sans", sans-serif'>0.00</text>
<path d="M281.95 318.2V320.2" stroke="#333" stroke-width="0.6"/>
<text transform="translate(283.25 324.4) rotate(-45)" font-size="4.6" font-weight="bold" text-anchor="end" fill="#2a2a2a" font-family='"Liberation Sans", sans-serif'>Light</text>
<path d="M288.85 318.2V320.2" stroke="#333" stroke-width="0.6"/>
<text transform="translate(290.15 324.4) rotate(-45)" font-size="4.6" font-weight="bold" text-anchor="end" fill="#2a2a2a" font-family='"Liberation Sans", sans-serif'>Dark</text>
<path d="M299.68 318.2V320.2" stroke="#333" stroke-width="0.6"/>
<text transform="translate(300.98 324.4) rotate(-45)" font-size="4.6" font-weight="bold" text-anchor="end" fill="#2a2a2a" font-family='"Liberation Sans", sans-serif'>Light</text>
<path d="M306.59 318.2V320.2" stroke="#333" stroke-width="0.6"/>
<text transform="translate(307.89 324.4) rotate(-45)" font-size="4.6" font-weight="bold" text-anchor="end" fill="#2a2a2a" font-family='"Liberation Sans", sans-serif'>Dark</text>
<path d="M317.41 318.2V320.2" stroke="#333" stroke-width="0.6"/>
<text transform="translate(318.71 324.4) rotate(-45)" font-size="4.6" font-weight="bold" text-anchor="end" fill="#2a2a2a" font-family='"Liberation Sans", sans-serif'>Light</text>
<path d="M324.33 318.2V320.2" stroke="#333" stroke-width="0.6"/>
<text transform="translate(325.63 324.4) rotate(-45)" font-size="4.6" font-weight="bold" text-anchor="end" fill="#2a2a2a" font-family='"Liberation Sans", sans-serif'>Dark</text>
<path d="M335.14 318.2V320.2" stroke="#333" stroke-width="0.6"/>
<text transform="translate(336.44 324.4) rotate(-45)" font-size="4.6" font-weight="bold" text-anchor="end" fill="#2a2a2a" font-family='"Liberation Sans", sans-serif'>Light</text>
<path d="M342.07 318.2V320.2" stroke="#333" stroke-width="0.6"/>
<text transform="translate(343.37 324.4) rotate(-45)" font-size="4.6" font-weight="bold" text-anchor="end" fill="#2a2a2a" font-family='"Liberation Sans", sans-serif'>Dark</text>
<path d="M352.87 318.2V320.2" stroke="#333" stroke-width="0.6"/>
<text transform="translate(354.17 324.4) rotate(-45)" font-size="4.6" font-weight="bold" text-anchor="end" fill="#2a2a2a" font-family='"Liberation Sans", sans-serif'>Light</text>
<path d="M359.81 318.2V320.2" stroke="#333" stroke-width="0.6"/>
<text transform="translate(361.11 324.4) rotate(-45)" font-size="4.6" font-weight="bold" text-anchor="end" fill="#2a2a2a" font-family='"Liberation Sans", sans-serif'>Dark</text>
<path d="M370.6 318.2V320.2" stroke="#333" stroke-width="0.6"/>
<text transform="translate(371.9 324.4) rotate(-45)" font-size="4.6" font-weight="bold" text-anchor="end" fill="#2a2a2a" font-family='"Liberation Sans", sans-serif'>Light</text>
<path d="M377.55 318.2V320.2" stroke="#333" stroke-width="0.6"/>
<text transform="translate(378.85 324.4) rotate(-45)" font-size="4.6" font-weight="bold" text-anchor="end" fill="#2a2a2a" font-family='"Liberation Sans", sans-serif'>Dark</text>
<path d="M388.33 318.2V320.2" stroke="#333" stroke-width="0.6"/>
<text transform="translate(389.63 324.4) rotate(-45)" font-size="4.6" font-weight="bold" text-anchor="end" fill="#2a2a2a" font-family='"Liberation Sans", sans-serif'>Light</text>
<path d="M395.29 318.2V320.2" stroke="#333" stroke-width="0.6"/>
<text transform="translate(396.59 324.4) rotate(-45)" font-size="4.6" font-weight="bold" text-anchor="end" fill="#2a2a2a" font-family='"Liberation Sans", sans-serif'>Dark</text>
<path d="M406.06 318.2V320.2" stroke="#333" stroke-width="0.6"/>
<text transform="translate(407.36 324.4) rotate(-45)" font-size="4.6" font-weight="bold" text-anchor="end" fill="#2a2a2a" font-family='"Liberation Sans", sans-serif'>Light</text>
<path d="M413.03 318.2V320.2" stroke="#333" stroke-width="0.6"/>
<text transform="translate(414.33 324.4) rotate(-45)" font-size="4.6" font-weight="bold" text-anchor="end" fill="#2a2a2a" font-family='"Liberation Sans", sans-serif'>Dark</text>
<path d="M423.79 318.2V320.2" stroke="#333" stroke-width="0.6"/>
<text transform="translate(425.09 324.4) rotate(-45)" font-size="4.6" font-weight="bold" text-anchor="end" fill="#2a2a2a" font-family='"Liberation Sans", sans-serif'>Light</text>
<path d="M430.77 318.2V320.2" stroke="#333" stroke-width="0.6"/>
<text transform="translate(432.07 324.4) rotate(-45)" font-size="4.6" font-weight="bold" text-anchor="end" fill="#2a2a2a" font-family='"Liberation Sans", sans-serif'>Dark</text>
<path d="M441.52 318.2V320.2" stroke="#333" stroke-width="0.6"/>
<text transform="translate(442.82 324.4) rotate(-45)" font-size="4.6" font-weight="bold" text-anchor="end" fill="#2a2a2a" font-family='"Liberation Sans", sans-serif'>Light</text>
<path d="M448.51 318.2V320.2" stroke="#333" stroke-width="0.6"/>
<text transform="translate(449.81 324.4) rotate(-45)" font-size="4.6" font-weight="bold" text-anchor="end" fill="#2a2a2a" font-family='"Liberation Sans", sans-serif'>Dark</text>
<path d="M459.25 318.2V320.2" stroke="#333" stroke-width="0.6"/>
<text transform="translate(460.55 324.4) rotate(-45)" font-size="4.6" font-weight="bold" text-anchor="end" fill="#2a2a2a" font-family='"Liberation Sans", sans-serif'>Light</text>
<path d="M466.25 318.2V320.2" stroke="#333" stroke-width="0.6"/>
<text transform="translate(467.55 324.4) rotate(-45)" font-size="4.6" font-weight="bold" text-anchor="end" fill="#2a2a2a" font-family='"Liberation Sans", sans-serif'>Dark</text>
<path d="M476.98 318.2V320.2" stroke="#333" stroke-width="0.6"/>
<text transform="translate(478.28 324.4) rotate(-45)" font-size="4.6" font-weight="bold" text-anchor="end" fill="#2a2a2a" font-family='"Liberation Sans", sans-serif'>Light</text>
<path d="M483.99 318.2V320.2" stroke="#333" stroke-width="0.6"/>
<text transform="translate(485.29 324.4) rotate(-45)" font-size="4.6" font-weight="bold" text-anchor="end" fill="#2a2a2a" font-family='"Liberation Sans", sans-serif'>Dark</text>
<path d="M494.71 318.2V320.2" stroke="#333" stroke-width="0.6"/>
<text transform="translate(496.01 324.4) rotate(-45)" font-size="4.6" font-weight="bold" text-anchor="end" fill="#2a2a2a" font-family='"Liberation Sans", sans-serif'>Light</text>
<path d="M501.73 318.2V320.2" stroke="#333" stroke-width="0.6"/>
<text transform="translate(503.03 324.4) rotate(-45)" font-size="4.6" font-weight="bold" text-anchor="end" fill="#2a2a2a" font-family='"Liberation Sans", sans-serif'>Dark</text>
<text transform="translate(277.49 181.62) scale(0.966 1)" font-size="18.94" font-weight="bold" fill="#000" font-family='"Liberation Sans", sans-serif'>(E)</text>
<text transform="translate(260.4 249.3) rotate(-90)" font-size="7.9" word-spacing="0" font-weight="bold" text-anchor="middle" fill="#000" font-family='"Liberation Serif", serif'>Burst Count</text>
<text x="347.6" y="346.2" font-size="9.31" font-weight="bold" fill="#000" font-family='"Liberation Serif", serif'>Light/Dark Transition</text>
<rect x="26.7" y="486" width="4" height="8.2" fill="#000000"/>
<rect x="33.1" y="450.9" width="4" height="43.3" fill="#000000"/>
<path d="M28.7 486V484.4M27.8 484.4H29.6" stroke="#000000" stroke-width="0.5" fill="none"/>
<path d="M35.1 450.9V449.3M34.2 449.3H36" stroke="#000000" stroke-width="0.5" fill="none"/>
<rect x="43.67" y="487.3" width="4" height="6.9" fill="#b3361a"/>
<rect x="50.06" y="450.4" width="4" height="43.8" fill="#b3361a"/>
<path d="M45.67 487.3V485.7M44.77 485.7H46.57" stroke="#b3361a" stroke-width="0.5" fill="none"/>
<path d="M52.06 450.4V448.8M51.16 448.8H52.96" stroke="#b3361a" stroke-width="0.5" fill="none"/>
<rect x="60.64" y="479.4" width="4" height="14.8" fill="#7f7f14"/>
<rect x="67.02" y="432.6" width="4" height="61.6" fill="#7f7f14"/>
<path d="M62.64 479.4V477.8M61.74 477.8H63.54" stroke="#7f7f14" stroke-width="0.5" fill="none"/>
<path d="M69.02 432.6V431M68.12 431H69.92" stroke="#7f7f14" stroke-width="0.5" fill="none"/>
<rect x="77.61" y="468.7" width="4" height="25.5" fill="#9b30e8"/>
<rect x="83.98" y="429.3" width="4" height="64.9" fill="#9b30e8"/>
<path d="M79.61 468.7V467.1M78.71 467.1H80.51" stroke="#9b30e8" stroke-width="0.5" fill="none"/>
<path d="M85.98 429.3V427.7M85.08 427.7H86.88" stroke="#9b30e8" stroke-width="0.5" fill="none"/>
<rect x="94.58" y="483.5" width="4" height="10.7" fill="#cf9a22"/>
<rect x="100.94" y="456.5" width="4" height="37.7" fill="#cf9a22"/>
<path d="M96.58 483.5V481.9M95.68 481.9H97.48" stroke="#cf9a22" stroke-width="0.5" fill="none"/>
<path d="M102.94 456.5V454.9M102.04 454.9H103.84" stroke="#cf9a22" stroke-width="0.5" fill="none"/>
<rect x="111.55" y="482" width="4" height="12.2" fill="#1414f5"/>
<rect x="117.9" y="457.3" width="4" height="36.9" fill="#1414f5"/>
<path d="M113.55 482V480.4M112.65 480.4H114.45" stroke="#1414f5" stroke-width="0.5" fill="none"/>
<path d="M119.9 457.3V455.7M119 455.7H120.8" stroke="#1414f5" stroke-width="0.5" fill="none"/>
<rect x="128.52" y="477.6" width="4" height="16.6" fill="#857a1a"/>
<rect x="134.86" y="430" width="4" height="64.2" fill="#857a1a"/>
<path d="M130.52 477.6V476M129.62 476H131.42" stroke="#857a1a" stroke-width="0.5" fill="none"/>
<path d="M136.86 430V428.4M135.96 428.4H137.76" stroke="#857a1a" stroke-width="0.5" fill="none"/>
<rect x="145.49" y="475.1" width="4" height="19.1" fill="#12128a"/>
<rect x="151.82" y="433.2" width="4" height="61" fill="#12128a"/>
<path d="M147.49 475.1V473.5M146.59 473.5H148.39" stroke="#12128a" stroke-width="0.5" fill="none"/>
<path d="M153.82 433.2V431.6M152.92 431.6H154.72" stroke="#12128a" stroke-width="0.5" fill="none"/>
<rect x="162.46" y="486.7" width="4" height="7.5" fill="#4a1a58"/>
<rect x="168.78" y="450.4" width="4" height="43.8" fill="#4a1a58"/>
<path d="M164.46 486.7V485.1M163.56 485.1H165.36" stroke="#4a1a58" stroke-width="0.5" fill="none"/>
<path d="M170.78 450.4V448.8M169.88 448.8H171.68" stroke="#4a1a58" stroke-width="0.5" fill="none"/>
<rect x="179.43" y="477.2" width="4" height="17" fill="#7a2a0e"/>
<rect x="185.74" y="445.2" width="4" height="49" fill="#7a2a0e"/>
<path d="M181.43 477.2V475.6M180.53 475.6H182.33" stroke="#7a2a0e" stroke-width="0.5" fill="none"/>
<path d="M187.74 445.2V443.6M186.84 443.6H188.64" stroke="#7a2a0e" stroke-width="0.5" fill="none"/>
<rect x="196.4" y="486.7" width="4" height="7.5" fill="#1c4f1c"/>
<rect x="202.7" y="455" width="4" height="39.2" fill="#1c4f1c"/>
<path d="M198.4 486.7V485.1M197.5 485.1H199.3" stroke="#1c4f1c" stroke-width="0.5" fill="none"/>
<path d="M204.7 455V453.4M203.8 453.4H205.6" stroke="#1c4f1c" stroke-width="0.5" fill="none"/>
<rect x="213.37" y="374" width="4" height="120.2" fill="#dfbc80"/>
<rect x="219.66" y="374" width="4" height="120.2" fill="#dfbc80"/>
<path d="M215.37 374V372.4M214.47 372.4H216.27" stroke="#dfbc80" stroke-width="0.5" fill="none"/>
<path d="M221.66 374V372.4M220.76 372.4H222.56" stroke="#dfbc80" stroke-width="0.5" fill="none"/>
<rect x="230.34" y="478.1" width="4" height="16.1" fill="#44d030"/>
<rect x="236.62" y="433.2" width="4" height="61" fill="#44d030"/>
<path d="M232.34 478.1V476.5M231.44 476.5H233.24" stroke="#44d030" stroke-width="0.5" fill="none"/>
<path d="M238.62 433.2V431.6M237.72 431.6H239.52" stroke="#44d030" stroke-width="0.5" fill="none"/>
<rect x="25.5" y="427.2" width="217.4" height="2.2" fill="#fff"/>
<path d="M28.7 482.8V438.2H35.1V447.7" stroke="#333" stroke-width="0.9" fill="none"/>
<circle cx="31.9" cy="434.6" r="1.12" fill="#111"/>
<circle cx="31.9" cy="431.3" r="1.12" fill="#111"/>
<circle cx="31.9" cy="428" r="1.12" fill="#111"/>
<circle cx="31.9" cy="424.7" r="1.12" fill="#111"/>
<path d="M45.67 484.1V444H52.06V447.2" stroke="#333" stroke-width="0.9" fill="none"/>
<circle cx="48.87" cy="440.4" r="1.12" fill="#111"/>
<circle cx="48.87" cy="437.1" r="1.12" fill="#111"/>
<circle cx="48.87" cy="433.8" r="1.12" fill="#111"/>
<circle cx="48.87" cy="430.5" r="1.12" fill="#111"/>
<path d="M62.64 476.2V425.5H69.02V429.4" stroke="#333" stroke-width="0.9" fill="none"/>
<circle cx="65.83" cy="421.9" r="1.12" fill="#111"/>
<circle cx="65.83" cy="418.6" r="1.12" fill="#111"/>
<circle cx="65.83" cy="415.3" r="1.12" fill="#111"/>
<circle cx="65.83" cy="412" r="1.12" fill="#111"/>
<path d="M79.61 465.5V422.4H85.98V426.1" stroke="#333" stroke-width="0.9" fill="none"/>
<circle cx="82.8" cy="418.8" r="1.12" fill="#111"/>
<circle cx="82.8" cy="415.5" r="1.12" fill="#111"/>
<circle cx="82.8" cy="412.2" r="1.12" fill="#111"/>
<circle cx="82.8" cy="408.9" r="1.12" fill="#111"/>
<path d="M96.58 480.3V447.6H102.94V453.3" stroke="#333" stroke-width="0.9" fill="none"/>
<circle cx="99.76" cy="444" r="1.12" fill="#111"/>
<circle cx="99.76" cy="440.7" r="1.12" fill="#111"/>
<circle cx="99.76" cy="437.4" r="1.12" fill="#111"/>
<circle cx="99.76" cy="434.1" r="1.12" fill="#111"/>
<path d="M113.55 478.8V450.9H119.9V454.1" stroke="#333" stroke-width="0.9" fill="none"/>
<circle cx="116.72" cy="447.3" r="1.12" fill="#111"/>
<circle cx="116.72" cy="444" r="1.12" fill="#111"/>
<circle cx="116.72" cy="440.7" r="1.12" fill="#111"/>
<circle cx="116.72" cy="437.4" r="1.12" fill="#111"/>
<path d="M130.52 474.4V422.9H136.86V426.8" stroke="#333" stroke-width="0.9" fill="none"/>
<circle cx="133.69" cy="419.3" r="1.12" fill="#111"/>
<circle cx="133.69" cy="416" r="1.12" fill="#111"/>
<circle cx="133.69" cy="412.7" r="1.12" fill="#111"/>
<circle cx="133.69" cy="409.4" r="1.12" fill="#111"/>
<path d="M147.49 471.9V426.2H153.82V430" stroke="#333" stroke-width="0.9" fill="none"/>
<circle cx="150.65" cy="422.6" r="1.12" fill="#111"/>
<circle cx="150.65" cy="419.3" r="1.12" fill="#111"/>
<circle cx="150.65" cy="416" r="1.12" fill="#111"/>
<circle cx="150.65" cy="412.7" r="1.12" fill="#111"/>
<path d="M164.46 483.5V444.5H170.78V447.2" stroke="#333" stroke-width="0.9" fill="none"/>
<circle cx="167.62" cy="440.9" r="1.12" fill="#111"/>
<circle cx="167.62" cy="437.6" r="1.12" fill="#111"/>
<circle cx="167.62" cy="434.3" r="1.12" fill="#111"/>
<circle cx="167.62" cy="431" r="1.12" fill="#111"/>
<path d="M181.43 474V437.6H187.74V442" stroke="#333" stroke-width="0.9" fill="none"/>
<circle cx="184.58" cy="434" r="1.12" fill="#111"/>
<circle cx="184.58" cy="430.7" r="1.12" fill="#111"/>
<circle cx="184.58" cy="427.4" r="1.12" fill="#111"/>
<circle cx="184.58" cy="424.1" r="1.12" fill="#111"/>
<path d="M198.4 483.5V448.1H204.7V451.8" stroke="#333" stroke-width="0.9" fill="none"/>
<circle cx="201.55" cy="444.5" r="1.12" fill="#111"/>
<circle cx="201.55" cy="441.2" r="1.12" fill="#111"/>
<circle cx="201.55" cy="437.9" r="1.12" fill="#111"/>
<circle cx="201.55" cy="434.6" r="1.12" fill="#111"/>
<path d="M215.37 370.8V366H221.66V370.8" stroke="#333" stroke-width="0.9" fill="none"/>
<circle cx="218.51" cy="362.4" r="1.12" fill="#111"/>
<circle cx="218.51" cy="359.1" r="1.12" fill="#111"/>
<circle cx="218.51" cy="355.8" r="1.12" fill="#111"/>
<circle cx="218.51" cy="352.5" r="1.12" fill="#111"/>
<path d="M232.34 474.9V426.7H238.62V430" stroke="#333" stroke-width="0.9" fill="none"/>
<circle cx="235.48" cy="423.1" r="1.12" fill="#111"/>
<circle cx="235.48" cy="419.8" r="1.12" fill="#111"/>
<circle cx="235.48" cy="416.5" r="1.12" fill="#111"/>
<circle cx="235.48" cy="413.2" r="1.12" fill="#111"/>
<path d="M24.5 362V494.2" stroke="#444" stroke-width="0.9" fill="none"/>
<path d="M24.05 494.2H242.9" stroke="#3a3a3a" stroke-width="1" fill="none"/>
<rect x="23.5" y="427.2" width="2" height="2.2" fill="#fff"/>
<path d="M23.5 427.1L25.5 429.3" stroke="#222" stroke-width="0.8"/>
<path d="M20.1 362H24.5" stroke="#444" stroke-width="0.7"/>
<text x="19.9" y="363.25" font-size="3.8" font-weight="bold" text-anchor="end" fill="#111" font-family='"Liberation Sans", sans-serif'>20</text>
<path d="M20.1 379.4H24.5" stroke="#444" stroke-width="0.7"/>
<text x="19.9" y="380.65" font-size="3.8" font-weight="bold" text-anchor="end" fill="#111" font-family='"Liberation Sans", sans-serif'>15</text>
<path d="M20.1 396.8H24.5" stroke="#444" stroke-width="0.7"/>
<text x="19.9" y="398.05" font-size="3.8" font-weight="bold" text-anchor="end" fill="#111" font-family='"Liberation Sans", sans-serif'>10</text>
<path d="M20.1 414.2H24.5" stroke="#444" stroke-width="0.7"/>
<text x="19.9" y="415.45" font-size="3.8" font-weight="bold" text-anchor="end" fill="#111" font-family='"Liberation Sans", sans-serif'>5</text>
<path d="M20.1 428.5H24.5" stroke="#444" stroke-width="0.7"/>
<text x="19.9" y="429.75" font-size="3.8" font-weight="bold" text-anchor="end" fill="#111" font-family='"Liberation Sans", sans-serif'>1.0</text>
<path d="M20.1 441.5H24.5" stroke="#444" stroke-width="0.7"/>
<text x="19.9" y="442.75" font-size="3.8" font-weight="bold" text-anchor="end" fill="#111" font-family='"Liberation Sans", sans-serif'>0.8</text>
<path d="M20.1 454.7H24.5" stroke="#444" stroke-width="0.7"/>
<text x="19.9" y="455.95" font-size="3.8" font-weight="bold" text-anchor="end" fill="#111" font-family='"Liberation Sans", sans-serif'>0.6</text>
<path d="M20.1 468H24.5" stroke="#444" stroke-width="0.7"/>
<text x="19.9" y="469.25" font-size="3.8" font-weight="bold" text-anchor="end" fill="#111" font-family='"Liberation Sans", sans-serif'>0.4</text>
<path d="M20.1 480.9H24.5" stroke="#444" stroke-width="0.7"/>
<text x="19.9" y="482.15" font-size="3.8" font-weight="bold" text-anchor="end" fill="#111" font-family='"Liberation Sans", sans-serif'>0.2</text>
<path d="M20.1 494.2H24.5" stroke="#444" stroke-width="0.7"/>
<text x="19.9" y="495.45" font-size="3.8" font-weight="bold" text-anchor="end" fill="#111" font-family='"Liberation Sans", sans-serif'>0.0</text>
<path d="M28.7 494.2V496.2" stroke="#333" stroke-width="0.6"/>
<text transform="translate(30 500.4) rotate(-45)" font-size="4.6" font-weight="bold" text-anchor="end" fill="#2a2a2a" font-family='"Liberation Sans", sans-serif'>Light</text>
<path d="M35.1 494.2V496.2" stroke="#333" stroke-width="0.6"/>
<text transform="translate(36.4 500.4) rotate(-45)" font-size="4.6" font-weight="bold" text-anchor="end" fill="#2a2a2a" font-family='"Liberation Sans", sans-serif'>Dark</text>
<path d="M45.67 494.2V496.2" stroke="#333" stroke-width="0.6"/>
<text transform="translate(46.97 500.4) rotate(-45)" font-size="4.6" font-weight="bold" text-anchor="end" fill="#2a2a2a" font-family='"Liberation Sans", sans-serif'>Light</text>
<path d="M52.06 494.2V496.2" stroke="#333" stroke-width="0.6"/>
<text transform="translate(53.36 500.4) rotate(-45)" font-size="4.6" font-weight="bold" text-anchor="end" fill="#2a2a2a" font-family='"Liberation Sans", sans-serif'>Dark</text>
<path d="M62.64 494.2V496.2" stroke="#333" stroke-width="0.6"/>
<text transform="translate(63.94 500.4) rotate(-45)" font-size="4.6" font-weight="bold" text-anchor="end" fill="#2a2a2a" font-family='"Liberation Sans", sans-serif'>Light</text>
<path d="M69.02 494.2V496.2" stroke="#333" stroke-width="0.6"/>
<text transform="translate(70.32 500.4) rotate(-45)" font-size="4.6" font-weight="bold" text-anchor="end" fill="#2a2a2a" font-family='"Liberation Sans", sans-serif'>Dark</text>
<path d="M79.61 494.2V496.2" stroke="#333" stroke-width="0.6"/>
<text transform="translate(80.91 500.4) rotate(-45)" font-size="4.6" font-weight="bold" text-anchor="end" fill="#2a2a2a" font-family='"Liberation Sans", sans-serif'>Light</text>
<path d="M85.98 494.2V496.2" stroke="#333" stroke-width="0.6"/>
<text transform="translate(87.28 500.4) rotate(-45)" font-size="4.6" font-weight="bold" text-anchor="end" fill="#2a2a2a" font-family='"Liberation Sans", sans-serif'>Dark</text>
<path d="M96.58 494.2V496.2" stroke="#333" stroke-width="0.6"/>
<text transform="translate(97.88 500.4) rotate(-45)" font-size="4.6" font-weight="bold" text-anchor="end" fill="#2a2a2a" font-family='"Liberation Sans", sans-serif'>Light</text>
<path d="M102.94 494.2V496.2" stroke="#333" stroke-width="0.6"/>
<text transform="translate(104.24 500.4) rotate(-45)" font-size="4.6" font-weight="bold" text-anchor="end" fill="#2a2a2a" font-family='"Liberation Sans", sans-serif'>Dark</text>
<path d="M113.55 494.2V496.2" stroke="#333" stroke-width="0.6"/>
<text transform="translate(114.85 500.4) rotate(-45)" font-size="4.6" font-weight="bold" text-anchor="end" fill="#2a2a2a" font-family='"Liberation Sans", sans-serif'>Light</text>
<path d="M119.9 494.2V496.2" stroke="#333" stroke-width="0.6"/>
<text transform="translate(121.2 500.4) rotate(-45)" font-size="4.6" font-weight="bold" text-anchor="end" fill="#2a2a2a" font-family='"Liberation Sans", sans-serif'>Dark</text>
<path d="M130.52 494.2V496.2" stroke="#333" stroke-width="0.6"/>
<text transform="translate(131.82 500.4) rotate(-45)" font-size="4.6" font-weight="bold" text-anchor="end" fill="#2a2a2a" font-family='"Liberation Sans", sans-serif'>Light</text>
<path d="M136.86 494.2V496.2" stroke="#333" stroke-width="0.6"/>
<text transform="translate(138.16 500.4) rotate(-45)" font-size="4.6" font-weight="bold" text-anchor="end" fill="#2a2a2a" font-family='"Liberation Sans", sans-serif'>Dark</text>
<path d="M147.49 494.2V496.2" stroke="#333" stroke-width="0.6"/>
<text transform="translate(148.79 500.4) rotate(-45)" font-size="4.6" font-weight="bold" text-anchor="end" fill="#2a2a2a" font-family='"Liberation Sans", sans-serif'>Light</text>
<path d="M153.82 494.2V496.2" stroke="#333" stroke-width="0.6"/>
<text transform="translate(155.12 500.4) rotate(-45)" font-size="4.6" font-weight="bold" text-anchor="end" fill="#2a2a2a" font-family='"Liberation Sans", sans-serif'>Dark</text>
<path d="M164.46 494.2V496.2" stroke="#333" stroke-width="0.6"/>
<text transform="translate(165.76 500.4) rotate(-45)" font-size="4.6" font-weight="bold" text-anchor="end" fill="#2a2a2a" font-family='"Liberation Sans", sans-serif'>Light</text>
<path d="M170.78 494.2V496.2" stroke="#333" stroke-width="0.6"/>
<text transform="translate(172.08 500.4) rotate(-45)" font-size="4.6" font-weight="bold" text-anchor="end" fill="#2a2a2a" font-family='"Liberation Sans", sans-serif'>Dark</text>
<path d="M181.43 494.2V496.2" stroke="#333" stroke-width="0.6"/>
<text transform="translate(182.73 500.4) rotate(-45)" font-size="4.6" font-weight="bold" text-anchor="end" fill="#2a2a2a" font-family='"Liberation Sans", sans-serif'>Light</text>
<path d="M187.74 494.2V496.2" stroke="#333" stroke-width="0.6"/>
<text transform="translate(189.04 500.4) rotate(-45)" font-size="4.6" font-weight="bold" text-anchor="end" fill="#2a2a2a" font-family='"Liberation Sans", sans-serif'>Dark</text>
<path d="M198.4 494.2V496.2" stroke="#333" stroke-width="0.6"/>
<text transform="translate(199.7 500.4) rotate(-45)" font-size="4.6" font-weight="bold" text-anchor="end" fill="#2a2a2a" font-family='"Liberation Sans", sans-serif'>Light</text>
<path d="M204.7 494.2V496.2" stroke="#333" stroke-width="0.6"/>
<text transform="translate(206 500.4) rotate(-45)" font-size="4.6" font-weight="bold" text-anchor="end" fill="#2a2a2a" font-family='"Liberation Sans", sans-serif'>Dark</text>
<path d="M215.37 494.2V496.2" stroke="#333" stroke-width="0.6"/>
<text transform="translate(216.67 500.4) rotate(-45)" font-size="4.6" font-weight="bold" text-anchor="end" fill="#2a2a2a" font-family='"Liberation Sans", sans-serif'>Light</text>
<path d="M221.66 494.2V496.2" stroke="#333" stroke-width="0.6"/>
<text transform="translate(222.96 500.4) rotate(-45)" font-size="4.6" font-weight="bold" text-anchor="end" fill="#2a2a2a" font-family='"Liberation Sans", sans-serif'>Dark</text>
<path d="M232.34 494.2V496.2" stroke="#333" stroke-width="0.6"/>
<text transform="translate(233.64 500.4) rotate(-45)" font-size="4.6" font-weight="bold" text-anchor="end" fill="#2a2a2a" font-family='"Liberation Sans", sans-serif'>Light</text>
<path d="M238.62 494.2V496.2" stroke="#333" stroke-width="0.6"/>
<text transform="translate(239.92 500.4) rotate(-45)" font-size="4.6" font-weight="bold" text-anchor="end" fill="#2a2a2a" font-family='"Liberation Sans", sans-serif'>Dark</text>
<text transform="translate(22.1 360.72) scale(0.954 1)" font-size="18.94" font-weight="bold" fill="#000" font-family='"Liberation Sans", sans-serif'>(C)</text>
<text transform="translate(12.6 427) rotate(-90)" font-size="7.7" word-spacing="0" font-weight="bold" text-anchor="middle" fill="#000" font-family='"Liberation Serif", serif'>Rotation Count</text>
<text x="95" y="516.8" font-size="8.29" font-weight="bold" fill="#000" font-family='"Liberation Serif", serif'>Light/Dark Transition</text>
<rect x="279" y="389.8" width="4.4" height="103.8" fill="#000000"/>
<rect x="286" y="407.2" width="4.4" height="86.4" fill="#000000"/>
<path d="M281.2 389.8V388.2M280.3 388.2H282.1" stroke="#000000" stroke-width="0.5" fill="none"/>
<path d="M288.2 407.2V405.6M287.3 405.6H289.1" stroke="#000000" stroke-width="0.5" fill="none"/>
<rect x="297.34" y="487.6" width="4.4" height="6" fill="#8b4a16"/>
<rect x="304.38" y="487.6" width="4.4" height="6" fill="#8b4a16"/>
<path d="M299.54 487.6V486M298.64 486H300.44" stroke="#8b4a16" stroke-width="0.5" fill="none"/>
<path d="M306.58 487.6V486M305.68 486H307.48" stroke="#8b4a16" stroke-width="0.5" fill="none"/>
<rect x="315.68" y="418.6" width="4.4" height="75" fill="#7f7f14"/>
<rect x="322.76" y="455.6" width="4.4" height="38" fill="#7f7f14"/>
<path d="M317.88 418.6V417M316.98 417H318.78" stroke="#7f7f14" stroke-width="0.5" fill="none"/>
<path d="M324.96 455.6V454M324.06 454H325.86" stroke="#7f7f14" stroke-width="0.5" fill="none"/>
<rect x="334.02" y="432" width="4.4" height="61.6" fill="#9b30e8"/>
<rect x="341.14" y="465" width="4.4" height="28.6" fill="#9b30e8"/>
<path d="M336.22 432V430.4M335.32 430.4H337.12" stroke="#9b30e8" stroke-width="0.5" fill="none"/>
<path d="M343.34 465V463.4M342.44 463.4H344.24" stroke="#9b30e8" stroke-width="0.5" fill="none"/>
<rect x="352.36" y="443.5" width="4.4" height="50.1" fill="#cf9a22"/>
<rect x="359.52" y="477" width="4.4" height="16.6" fill="#cf9a22"/>
<path d="M354.56 443.5V441.9M353.66 441.9H355.46" stroke="#cf9a22" stroke-width="0.5" fill="none"/>
<path d="M361.72 477V475.4M360.82 475.4H362.62" stroke="#cf9a22" stroke-width="0.5" fill="none"/>
<rect x="370.7" y="475" width="4.4" height="18.6" fill="#1414f5"/>
<rect x="377.9" y="488.4" width="4.4" height="5.2" fill="#1414f5"/>
<path d="M372.9 475V473.4M372 473.4H373.8" stroke="#1414f5" stroke-width="0.5" fill="none"/>
<path d="M380.1 488.4V486.8M379.2 486.8H381" stroke="#1414f5" stroke-width="0.5" fill="none"/>
<rect x="389.04" y="459.7" width="4.4" height="33.9" fill="#8b6d1a"/>
<rect x="396.28" y="462.4" width="4.4" height="31.2" fill="#8b6d1a"/>
<path d="M391.24 459.7V458.1M390.34 458.1H392.14" stroke="#8b6d1a" stroke-width="0.5" fill="none"/>
<path d="M398.48 462.4V460.8M397.58 460.8H399.38" stroke="#8b6d1a" stroke-width="0.5" fill="none"/>
<rect x="407.38" y="450.3" width="4.4" height="43.3" fill="#12128a"/>
<rect x="414.66" y="468" width="4.4" height="25.6" fill="#12128a"/>
<path d="M409.58 450.3V448.7M408.68 448.7H410.48" stroke="#12128a" stroke-width="0.5" fill="none"/>
<path d="M416.86 468V466.4M415.96 466.4H417.76" stroke="#12128a" stroke-width="0.5" fill="none"/>
<rect x="425.72" y="430.3" width="4.4" height="63.3" fill="#4a1a58"/>
<rect x="433.04" y="456.3" width="4.4" height="37.3" fill="#4a1a58"/>
<path d="M427.92 430.3V428.7M427.02 428.7H428.82" stroke="#4a1a58" stroke-width="0.5" fill="none"/>
<path d="M435.24 456.3V454.7M434.34 454.7H436.14" stroke="#4a1a58" stroke-width="0.5" fill="none"/>
<rect x="444.06" y="476.2" width="4.4" height="17.4" fill="#7a2a0e"/>
<rect x="451.42" y="479.6" width="4.4" height="14" fill="#7a2a0e"/>
<path d="M446.26 476.2V474.6M445.36 474.6H447.16" stroke="#7a2a0e" stroke-width="0.5" fill="none"/>
<path d="M453.62 479.6V478M452.72 478H454.52" stroke="#7a2a0e" stroke-width="0.5" fill="none"/>
<rect x="462.4" y="430.3" width="4.4" height="63.3" fill="#1c4f1c"/>
<rect x="469.8" y="469" width="4.4" height="24.6" fill="#1c4f1c"/>
<path d="M464.6 430.3V428.7M463.7 428.7H465.5" stroke="#1c4f1c" stroke-width="0.5" fill="none"/>
<path d="M472 469V467.4M471.1 467.4H472.9" stroke="#1c4f1c" stroke-width="0.5" fill="none"/>
<rect x="480.74" y="487.6" width="4.4" height="6" fill="#e6cf8e"/>
<rect x="488.18" y="489.6" width="4.4" height="4" fill="#e6cf8e"/>
<path d="M482.94 487.6V486M482.04 486H483.84" stroke="#e6cf8e" stroke-width="0.5" fill="none"/>
<path d="M490.38 489.6V488M489.48 488H491.28" stroke="#e6cf8e" stroke-width="0.5" fill="none"/>
<rect x="499.08" y="427.2" width="4.4" height="66.4" fill="#44d030"/>
<rect x="506.56" y="452.2" width="4.4" height="41.4" fill="#44d030"/>
<path d="M501.28 427.2V425.6M500.38 425.6H502.18" stroke="#44d030" stroke-width="0.5" fill="none"/>
<path d="M508.76 452.2V450.6M507.86 450.6H509.66" stroke="#44d030" stroke-width="0.5" fill="none"/>
<rect x="277.2" y="435.5" width="236.8" height="2.2" fill="#fff"/>
<path d="M281.2 386.6V382.9H288.2V404" stroke="#333" stroke-width="0.9" fill="none"/>
<circle cx="284.7" cy="379.3" r="1.12" fill="#111"/>
<circle cx="284.7" cy="376" r="1.12" fill="#111"/>
<circle cx="284.7" cy="372.7" r="1.12" fill="#111"/>
<circle cx="284.7" cy="369.4" r="1.12" fill="#111"/>
<path d="M299.54 484.4V481.6H306.58V484.4" stroke="#333" stroke-width="0.9" fill="none"/>
<text x="303.06" y="479.6" font-size="4.8" text-anchor="middle" fill="#333" font-family='"Liberation Sans", sans-serif'>ns</text>
<path d="M317.88 415.4V413.5H324.96V452.4" stroke="#333" stroke-width="0.9" fill="none"/>
<circle cx="321.42" cy="409.9" r="1.12" fill="#111"/>
<circle cx="321.42" cy="406.6" r="1.12" fill="#111"/>
<circle cx="321.42" cy="403.3" r="1.12" fill="#111"/>
<circle cx="321.42" cy="400" r="1.12" fill="#111"/>
<path d="M336.22 428.8V426.2H343.34V461.8" stroke="#333" stroke-width="0.9" fill="none"/>
<circle cx="339.78" cy="422.6" r="1.12" fill="#111"/>
<circle cx="339.78" cy="419.3" r="1.12" fill="#111"/>
<circle cx="339.78" cy="416" r="1.12" fill="#111"/>
<circle cx="339.78" cy="412.7" r="1.12" fill="#111"/>
<path d="M354.56 440.3V436H361.72V473.8" stroke="#333" stroke-width="0.9" fill="none"/>
<circle cx="358.14" cy="432.4" r="1.12" fill="#111"/>
<circle cx="358.14" cy="429.1" r="1.12" fill="#111"/>
<circle cx="358.14" cy="425.8" r="1.12" fill="#111"/>
<circle cx="358.14" cy="422.5" r="1.12" fill="#111"/>
<path d="M372.9 471.8V466H380.1V485.2" stroke="#333" stroke-width="0.9" fill="none"/>
<circle cx="376.5" cy="462.4" r="1.12" fill="#111"/>
<circle cx="376.5" cy="459.1" r="1.12" fill="#111"/>
<circle cx="376.5" cy="455.8" r="1.12" fill="#111"/>
<circle cx="376.5" cy="452.5" r="1.12" fill="#111"/>
<path d="M391.24 456.5V454.5H398.48V459.2" stroke="#333" stroke-width="0.9" fill="none"/>
<text x="394.86" y="452.5" font-size="4.8" text-anchor="middle" fill="#333" font-family='"Liberation Sans", sans-serif'>ns</text>
<path d="M409.58 447.1V443.5H416.86V464.8" stroke="#333" stroke-width="0.9" fill="none"/>
<circle cx="413.22" cy="439.9" r="1.12" fill="#111"/>
<circle cx="413.22" cy="436.6" r="1.12" fill="#111"/>
<circle cx="413.22" cy="433.3" r="1.12" fill="#111"/>
<circle cx="413.22" cy="430" r="1.12" fill="#111"/>
<path d="M427.92 427.1V424.7H435.24V453.1" stroke="#333" stroke-width="0.9" fill="none"/>
<circle cx="431.58" cy="421.1" r="1.12" fill="#111"/>
<circle cx="431.58" cy="417.8" r="1.12" fill="#111"/>
<circle cx="431.58" cy="414.5" r="1.12" fill="#111"/>
<circle cx="431.58" cy="411.2" r="1.12" fill="#111"/>
<path d="M446.26 473V469.5H453.62V476.4" stroke="#333" stroke-width="0.9" fill="none"/>
<circle cx="449.94" cy="465.9" r="1.12" fill="#111"/>
<path d="M464.6 427.1V424.7H472V465.8" stroke="#333" stroke-width="0.9" fill="none"/>
<circle cx="468.3" cy="421.1" r="1.12" fill="#111"/>
<circle cx="468.3" cy="417.8" r="1.12" fill="#111"/>
<circle cx="468.3" cy="414.5" r="1.12" fill="#111"/>
<circle cx="468.3" cy="411.2" r="1.12" fill="#111"/>
<path d="M482.94 484.4V481.6H490.38V486.4" stroke="#333" stroke-width="0.9" fill="none"/>
<circle cx="486.66" cy="478" r="1.12" fill="#111"/>
<circle cx="486.66" cy="474.7" r="1.12" fill="#111"/>
<circle cx="486.66" cy="471.4" r="1.12" fill="#111"/>
<path d="M501.28 424V424H508.76V449" stroke="#333" stroke-width="0.9" fill="none"/>
<circle cx="505.02" cy="420.4" r="1.12" fill="#111"/>
<circle cx="505.02" cy="417.1" r="1.12" fill="#111"/>
<circle cx="505.02" cy="413.8" r="1.12" fill="#111"/>
<circle cx="505.02" cy="410.5" r="1.12" fill="#111"/>
<path d="M276.2 375.1V493.6" stroke="#444" stroke-width="0.9" fill="none"/>
<path d="M275.75 493.6H514" stroke="#3a3a3a" stroke-width="1" fill="none"/>
<rect x="275.2" y="435.5" width="2" height="2.2" fill="#fff"/>
<path d="M275.2 435.4L277.2 437.6" stroke="#222" stroke-width="0.8"/>
<path d="M272.6 375.1H276.2" stroke="#444" stroke-width="0.7"/>
<text x="272.4" y="376.35" font-size="3.8" font-weight="bold" text-anchor="end" fill="#111" font-family='"Liberation Sans", sans-serif'>2.5</text>
<path d="M272.6 389.4H276.2" stroke="#444" stroke-width="0.7"/>
<text x="272.4" y="390.65" font-size="3.8" font-weight="bold" text-anchor="end" fill="#111" font-family='"Liberation Sans", sans-serif'>2.0</text>
<path d="M272.6 403H276.2" stroke="#444" stroke-width="0.7"/>
<text x="272.4" y="404.25" font-size="3.8" font-weight="bold" text-anchor="end" fill="#111" font-family='"Liberation Sans", sans-serif'>1.5</text>
<path d="M272.6 416.5H276.2" stroke="#444" stroke-width="0.7"/>
<text x="272.4" y="417.75" font-size="3.8" font-weight="bold" text-anchor="end" fill="#111" font-family='"Liberation Sans", sans-serif'>1.0</text>
<path d="M272.6 430.3H276.2" stroke="#444" stroke-width="0.7"/>
<text x="272.4" y="431.55" font-size="3.8" font-weight="bold" text-anchor="end" fill="#111" font-family='"Liberation Sans", sans-serif'>0.5</text>
<path d="M272.6 437H276.2" stroke="#444" stroke-width="0.7"/>
<text x="272.4" y="438.25" font-size="3.8" font-weight="bold" text-anchor="end" fill="#111" font-family='"Liberation Sans", sans-serif'>0.3</text>
<path d="M272.6 455.6H276.2" stroke="#444" stroke-width="0.7"/>
<text x="272.4" y="456.85" font-size="3.8" font-weight="bold" text-anchor="end" fill="#111" font-family='"Liberation Sans", sans-serif'>0.2</text>
<path d="M272.6 474.4H276.2" stroke="#444" stroke-width="0.7"/>
<text x="272.4" y="475.65" font-size="3.8" font-weight="bold" text-anchor="end" fill="#111" font-family='"Liberation Sans", sans-serif'>0.1</text>
<path d="M272.6 493.6H276.2" stroke="#444" stroke-width="0.7"/>
<text x="272.4" y="494.85" font-size="3.8" font-weight="bold" text-anchor="end" fill="#111" font-family='"Liberation Sans", sans-serif'>0.0</text>
<path d="M281.2 493.6V495.6" stroke="#333" stroke-width="0.6"/>
<text transform="translate(282.5 499.8) rotate(-45)" font-size="4.6" font-weight="bold" text-anchor="end" fill="#2a2a2a" font-family='"Liberation Sans", sans-serif'>Light</text>
<path d="M288.2 493.6V495.6" stroke="#333" stroke-width="0.6"/>
<text transform="translate(289.5 499.8) rotate(-45)" font-size="4.6" font-weight="bold" text-anchor="end" fill="#2a2a2a" font-family='"Liberation Sans", sans-serif'>Dark</text>
<path d="M299.54 493.6V495.6" stroke="#333" stroke-width="0.6"/>
<text transform="translate(300.84 499.8) rotate(-45)" font-size="4.6" font-weight="bold" text-anchor="end" fill="#2a2a2a" font-family='"Liberation Sans", sans-serif'>Light</text>
<path d="M306.58 493.6V495.6" stroke="#333" stroke-width="0.6"/>
<text transform="translate(307.88 499.8) rotate(-45)" font-size="4.6" font-weight="bold" text-anchor="end" fill="#2a2a2a" font-family='"Liberation Sans", sans-serif'>Dark</text>
<path d="M317.88 493.6V495.6" stroke="#333" stroke-width="0.6"/>
<text transform="translate(319.18 499.8) rotate(-45)" font-size="4.6" font-weight="bold" text-anchor="end" fill="#2a2a2a" font-family='"Liberation Sans", sans-serif'>Light</text>
<path d="M324.96 493.6V495.6" stroke="#333" stroke-width="0.6"/>
<text transform="translate(326.26 499.8) rotate(-45)" font-size="4.6" font-weight="bold" text-anchor="end" fill="#2a2a2a" font-family='"Liberation Sans", sans-serif'>Dark</text>
<path d="M336.22 493.6V495.6" stroke="#333" stroke-width="0.6"/>
<text transform="translate(337.52 499.8) rotate(-45)" font-size="4.6" font-weight="bold" text-anchor="end" fill="#2a2a2a" font-family='"Liberation Sans", sans-serif'>Light</text>
<path d="M343.34 493.6V495.6" stroke="#333" stroke-width="0.6"/>
<text transform="translate(344.64 499.8) rotate(-45)" font-size="4.6" font-weight="bold" text-anchor="end" fill="#2a2a2a" font-family='"Liberation Sans", sans-serif'>Dark</text>
<path d="M354.56 493.6V495.6" stroke="#333" stroke-width="0.6"/>
<text transform="translate(355.86 499.8) rotate(-45)" font-size="4.6" font-weight="bold" text-anchor="end" fill="#2a2a2a" font-family='"Liberation Sans", sans-serif'>Light</text>
<path d="M361.72 493.6V495.6" stroke="#333" stroke-width="0.6"/>
<text transform="translate(363.02 499.8) rotate(-45)" font-size="4.6" font-weight="bold" text-anchor="end" fill="#2a2a2a" font-family='"Liberation Sans", sans-serif'>Dark</text>
<path d="M372.9 493.6V495.6" stroke="#333" stroke-width="0.6"/>
<text transform="translate(374.2 499.8) rotate(-45)" font-size="4.6" font-weight="bold" text-anchor="end" fill="#2a2a2a" font-family='"Liberation Sans", sans-serif'>Light</text>
<path d="M380.1 493.6V495.6" stroke="#333" stroke-width="0.6"/>
<text transform="translate(381.4 499.8) rotate(-45)" font-size="4.6" font-weight="bold" text-anchor="end" fill="#2a2a2a" font-family='"Liberation Sans", sans-serif'>Dark</text>
<path d="M391.24 493.6V495.6" stroke="#333" stroke-width="0.6"/>
<text transform="translate(392.54 499.8) rotate(-45)" font-size="4.6" font-weight="bold" text-anchor="end" fill="#2a2a2a" font-family='"Liberation Sans", sans-serif'>Light</text>
<path d="M398.48 493.6V495.6" stroke="#333" stroke-width="0.6"/>
<text transform="translate(399.78 499.8) rotate(-45)" font-size="4.6" font-weight="bold" text-anchor="end" fill="#2a2a2a" font-family='"Liberation Sans", sans-serif'>Dark</text>
<path d="M409.58 493.6V495.6" stroke="#333" stroke-width="0.6"/>
<text transform="translate(410.88 499.8) rotate(-45)" font-size="4.6" font-weight="bold" text-anchor="end" fill="#2a2a2a" font-family='"Liberation Sans", sans-serif'>Light</text>
<path d="M416.86 493.6V495.6" stroke="#333" stroke-width="0.6"/>
<text transform="translate(418.16 499.8) rotate(-45)" font-size="4.6" font-weight="bold" text-anchor="end" fill="#2a2a2a" font-family='"Liberation Sans", sans-serif'>Dark</text>
<path d="M427.92 493.6V495.6" stroke="#333" stroke-width="0.6"/>
<text transform="translate(429.22 499.8) rotate(-45)" font-size="4.6" font-weight="bold" text-anchor="end" fill="#2a2a2a" font-family='"Liberation Sans", sans-serif'>Light</text>
<path d="M435.24 493.6V495.6" stroke="#333" stroke-width="0.6"/>
<text transform="translate(436.54 499.8) rotate(-45)" font-size="4.6" font-weight="bold" text-anchor="end" fill="#2a2a2a" font-family='"Liberation Sans", sans-serif'>Dark</text>
<path d="M446.26 493.6V495.6" stroke="#333" stroke-width="0.6"/>
<text transform="translate(447.56 499.8) rotate(-45)" font-size="4.6" font-weight="bold" text-anchor="end" fill="#2a2a2a" font-family='"Liberation Sans", sans-serif'>Light</text>
<path d="M453.62 493.6V495.6" stroke="#333" stroke-width="0.6"/>
<text transform="translate(454.92 499.8) rotate(-45)" font-size="4.6" font-weight="bold" text-anchor="end" fill="#2a2a2a" font-family='"Liberation Sans", sans-serif'>Dark</text>
<path d="M464.6 493.6V495.6" stroke="#333" stroke-width="0.6"/>
<text transform="translate(465.9 499.8) rotate(-45)" font-size="4.6" font-weight="bold" text-anchor="end" fill="#2a2a2a" font-family='"Liberation Sans", sans-serif'>Light</text>
<path d="M472 493.6V495.6" stroke="#333" stroke-width="0.6"/>
<text transform="translate(473.3 499.8) rotate(-45)" font-size="4.6" font-weight="bold" text-anchor="end" fill="#2a2a2a" font-family='"Liberation Sans", sans-serif'>Dark</text>
<path d="M482.94 493.6V495.6" stroke="#333" stroke-width="0.6"/>
<text transform="translate(484.24 499.8) rotate(-45)" font-size="4.6" font-weight="bold" text-anchor="end" fill="#2a2a2a" font-family='"Liberation Sans", sans-serif'>Light</text>
<path d="M490.38 493.6V495.6" stroke="#333" stroke-width="0.6"/>
<text transform="translate(491.68 499.8) rotate(-45)" font-size="4.6" font-weight="bold" text-anchor="end" fill="#2a2a2a" font-family='"Liberation Sans", sans-serif'>Dark</text>
<path d="M501.28 493.6V495.6" stroke="#333" stroke-width="0.6"/>
<text transform="translate(502.58 499.8) rotate(-45)" font-size="4.6" font-weight="bold" text-anchor="end" fill="#2a2a2a" font-family='"Liberation Sans", sans-serif'>Light</text>
<path d="M508.76 493.6V495.6" stroke="#333" stroke-width="0.6"/>
<text transform="translate(510.06 499.8) rotate(-45)" font-size="4.6" font-weight="bold" text-anchor="end" fill="#2a2a2a" font-family='"Liberation Sans", sans-serif'>Dark</text>
<text transform="translate(276.42 361.32) scale(0.926 1)" font-size="18.94" font-weight="bold" fill="#000" font-family='"Liberation Sans", sans-serif'>(F)</text>
<text transform="translate(263.1 432) rotate(-90)" font-size="7.7" word-spacing="0" font-weight="bold" text-anchor="middle" fill="#000" font-family='"Liberation Serif", serif'>Rotation Count</text>
<text x="352.6" y="518.6" font-size="8.96" font-weight="bold" fill="#000" font-family='"Liberation Serif", serif'>Light/Dark Transition</text>
<rect x="505.2" y="46.3" width="6" height="3" fill="#000000"/>
<text x="514.3" y="49.4" font-size="4.5" fill="#222" font-family='"Liberation Sans", sans-serif'>Control</text>
<rect x="505.2" y="53.7" width="6" height="3" fill="#6a4426"/>
<text x="514.3" y="56.8" font-size="4.5" fill="#222" font-family='"Liberation Sans", sans-serif'>Tebuconazole</text>
<rect x="505.2" y="61.2" width="6" height="3" fill="#8a7424"/>
<text x="514.3" y="64.3" font-size="4.5" fill="#222" font-family='"Liberation Sans", sans-serif'>Dimethomorph</text>
<rect x="505.2" y="68.8" width="6" height="3" fill="#7c3ce0"/>
<text x="514.3" y="71.9" font-size="4.5" fill="#222" font-family='"Liberation Sans", sans-serif'>Difenoconazole</text>
<rect x="505.2" y="76.3" width="6" height="3" fill="#c8a030"/>
<text x="514.3" y="79.4" font-size="4.5" fill="#222" font-family='"Liberation Sans", sans-serif'>Imidacloprid</text>
<rect x="505.2" y="83.7" width="6" height="3" fill="#1414c8"/>
<text x="514.3" y="86.8" font-size="4.5" fill="#222" font-family='"Liberation Sans", sans-serif'>Tolfenpyrad</text>
<rect x="505.2" y="91.3" width="6" height="3" fill="#7a7a20"/>
<text x="514.3" y="94.4" font-size="4.5" fill="#222" font-family='"Liberation Sans", sans-serif'>Fipronil</text>
<rect x="505.2" y="98.8" width="6" height="3" fill="#14147a"/>
<text x="514.3" y="101.9" font-size="4.5" fill="#222" font-family='"Liberation Sans", sans-serif'>Dinotefuran</text>
<rect x="505.2" y="109.1" width="6" height="3" fill="#2a1a3a"/>
<text x="514.3" y="109.6" font-size="4.5" fill="#222" font-family='"Liberation Sans", sans-serif'>Chlorantranili</text>
<text x="514.3" y="114.8" font-size="4.5" fill="#222" font-family='"Liberation Sans", sans-serif'>prole</text>
<rect x="505.2" y="119.4" width="6" height="3" fill="#4a3a1a"/>
<text x="514.3" y="122.5" font-size="4.5" fill="#222" font-family='"Liberation Sans", sans-serif'>Carbaryl</text>
<rect x="505.2" y="126.6" width="6" height="3" fill="#1a2a1a"/>
<text x="514.3" y="129.7" font-size="4.5" fill="#222" font-family='"Liberation Sans", sans-serif'>Cypermethrin</text>
<rect x="505.2" y="134.1" width="6" height="3" fill="#b8e0a0"/>
<text x="514.3" y="137.2" font-size="4.5" fill="#222" font-family='"Liberation Sans", sans-serif'>Fenpropathrin</text>
<rect x="505.2" y="141.6" width="6" height="3" fill="#70b030"/>
<text x="514.3" y="144.7" font-size="4.5" fill="#222" font-family='"Liberation Sans", sans-serif'>Acetamiprid</text>
</svg></body></html>
